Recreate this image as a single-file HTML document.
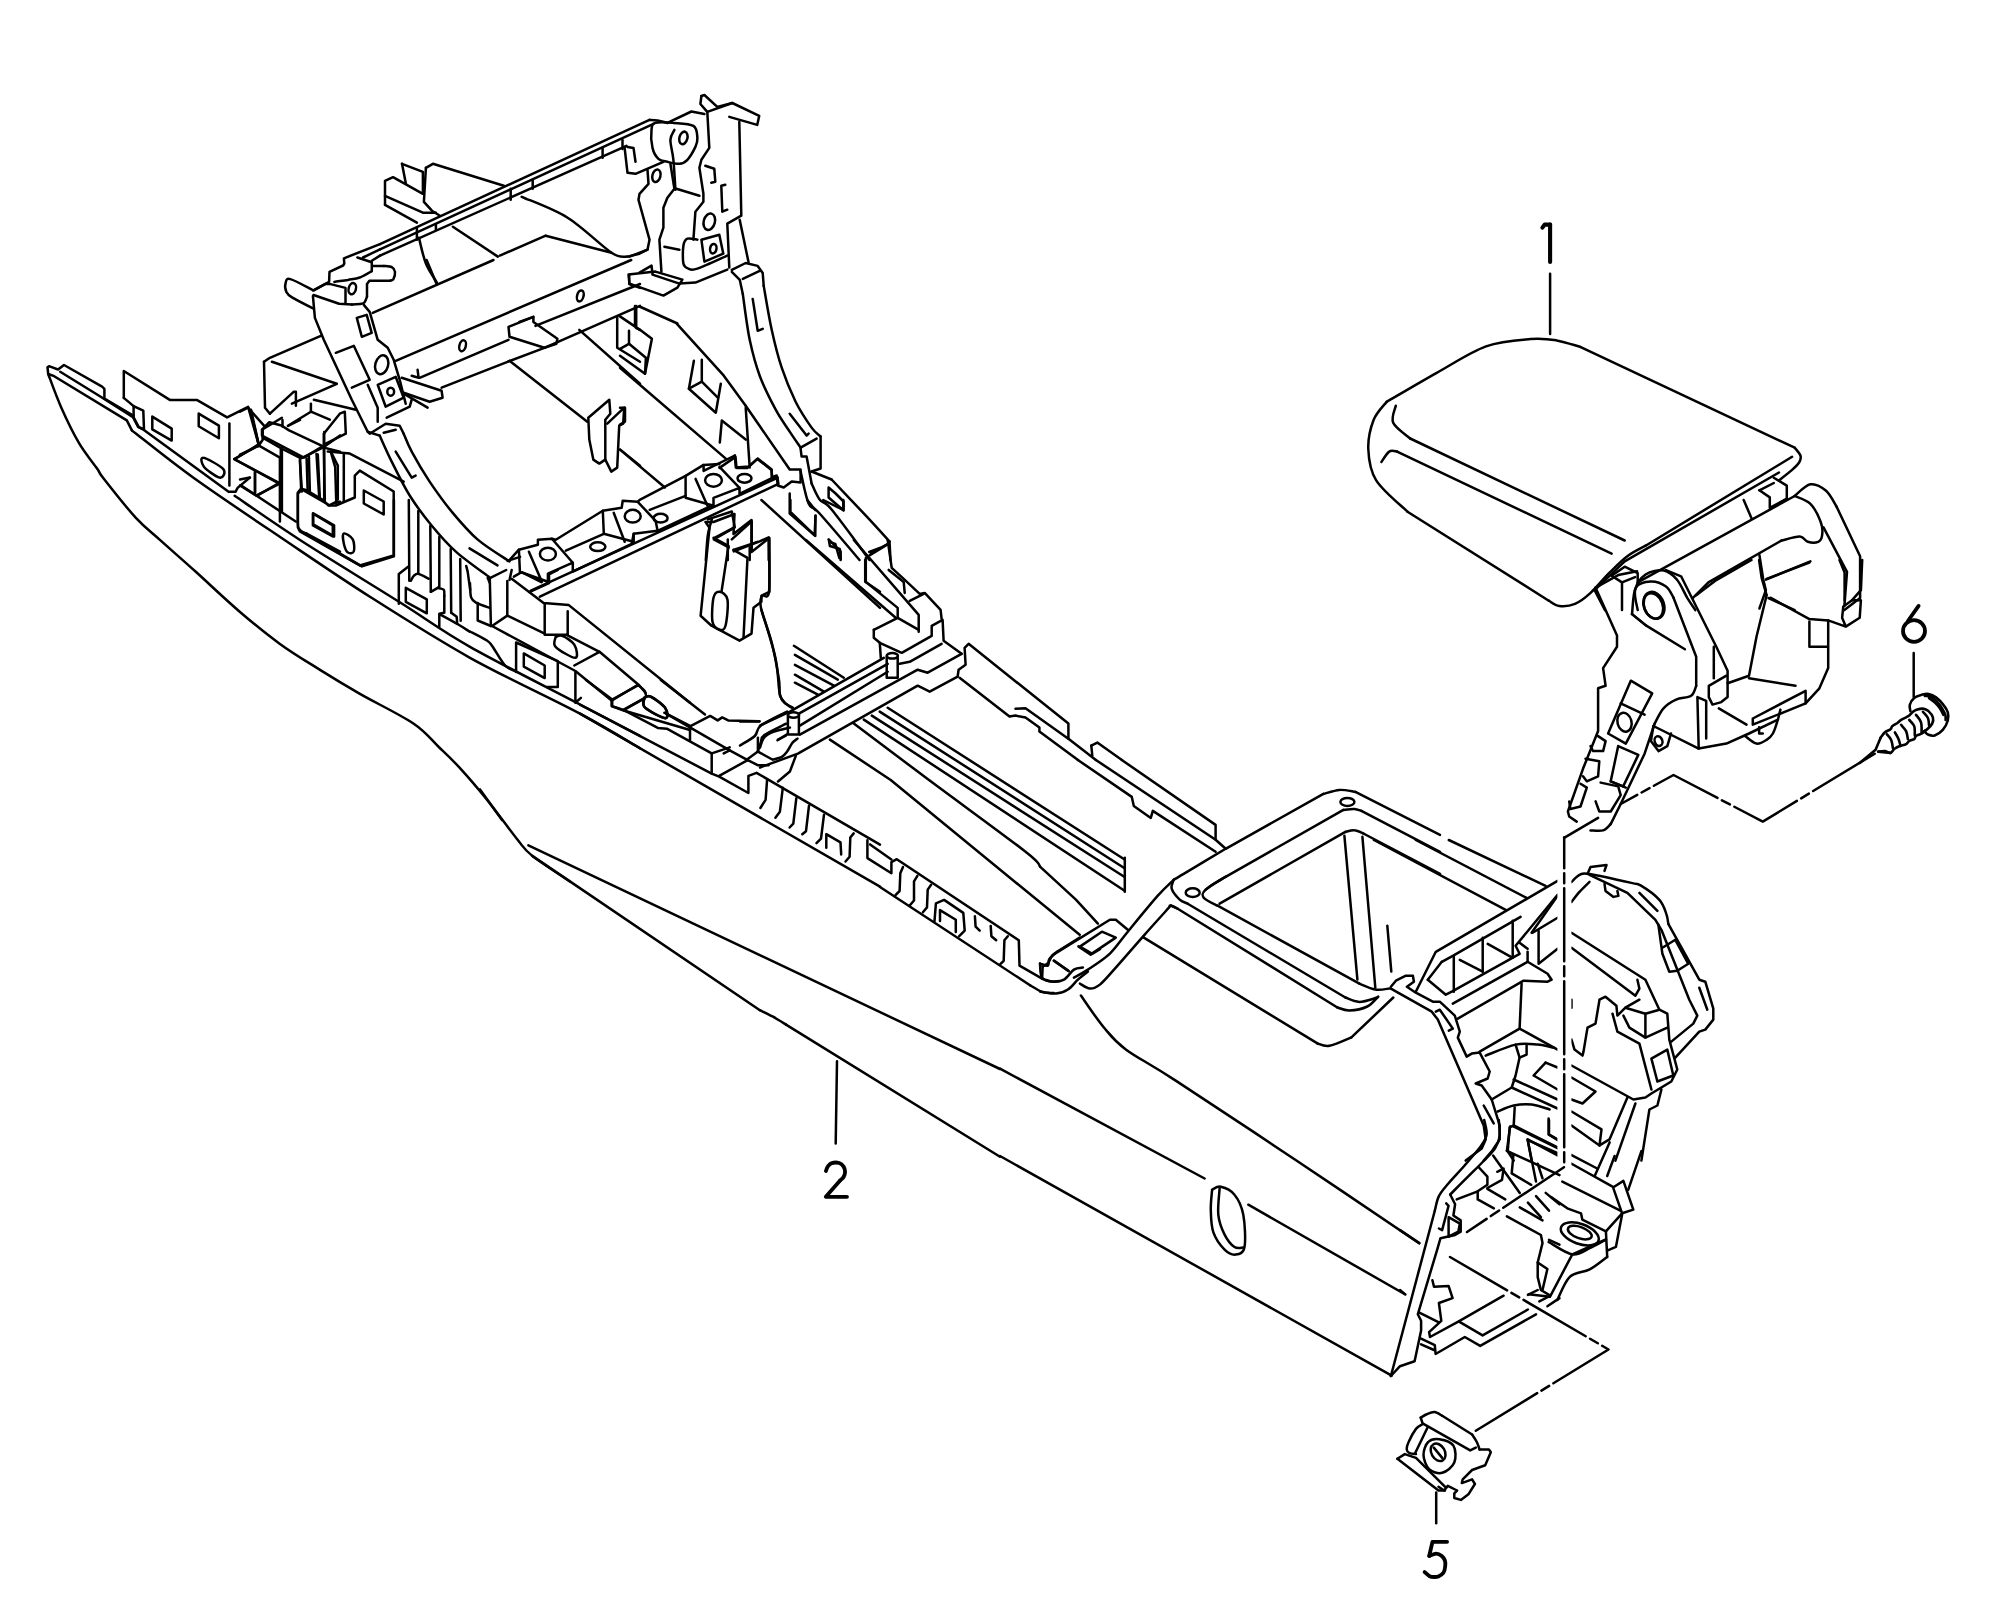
<!DOCTYPE html>
<html><head><meta charset="utf-8"><style>
html,body{margin:0;padding:0;background:#fff;width:2004px;height:1606px;overflow:hidden}
svg{display:block}
path,ellipse{fill:none;stroke:#000;stroke-linejoin:round;stroke-linecap:round}
text{font-family:"Liberation Sans",sans-serif;fill:#000;text-anchor:middle}
</style></head><body>
<svg width="2004" height="1606" viewBox="0 0 2004 1606" xmlns="http://www.w3.org/2000/svg">
<path d="M1918.6,605.9 L1907.9,621.0" stroke-width="3.8"/>
<ellipse cx="1914.0" cy="631.0" rx="11.0" ry="10.8" transform="rotate(0.0 1914.0 631.0)" stroke-width="3.8"/>
<path d="M1447.1,1541.8 L1432.5,1541.8 L1429.2,1556.0" stroke-width="3.8"/>
<path d="M1429.2,1556.0 C1430.4,1555.6 1434.1,1553.6 1436.2,1553.6 C1438.3,1553.6 1440.3,1554.8 1441.8,1556.0 C1443.2,1557.2 1444.3,1558.8 1444.9,1560.5 C1445.5,1562.2 1445.5,1564.4 1445.2,1566.4 C1445.0,1568.5 1444.5,1571.1 1443.4,1572.8 C1442.3,1574.5 1440.0,1575.7 1438.4,1576.4 C1436.8,1577.1 1435.5,1577.0 1434.0,1577.0 C1432.5,1577.0 1431.2,1577.0 1429.6,1576.2 C1428.0,1575.4 1425.4,1572.8 1424.6,1572.1" stroke-width="3.8"/>
<path d="M825.9,1171.0 C826.2,1170.2 826.9,1167.6 827.9,1166.3 C828.9,1165.0 829.9,1163.6 831.8,1163.1 C833.7,1162.5 837.2,1162.4 839.2,1163.0 C841.2,1163.6 842.6,1165.1 843.6,1166.6 C844.6,1168.1 845.1,1170.1 845.1,1171.8 C845.1,1173.5 844.4,1175.5 843.6,1177.0 C842.8,1178.5 840.7,1179.9 840.1,1180.5" stroke-width="3.8"/>
<path d="M840.1,1180.5 L825.8,1196.8 L847.0,1196.8" stroke-width="3.8"/>
<path d="M1550.1,224.6 L1550.1,262.0" stroke-width="4.1"/>
<path d="M1542.4,227.6 L1544.6,224.6 L1550.1,224.6" stroke-width="4.1"/>
<path d="M1550.1,273.7 L1550.1,333.9" stroke-width="2.5"/>
<path d="M1386.6,401.9 C1394.9,397.1 1419.8,382.3 1436.3,373.1 C1452.9,363.9 1470.3,352.1 1486.0,346.4 C1501.7,340.8 1518.7,340.1 1530.5,339.1 C1542.3,338.1 1548.4,339.1 1556.6,340.4 C1564.9,341.7 1576.3,345.9 1580.2,346.9" stroke-width="2.5"/>
<path d="M1580.2,346.9 L1794.7,447.7" stroke-width="2.5"/>
<path d="M1794.7,447.7 C1795.6,449.0 1799.6,453.1 1800.4,455.5 C1801.2,457.9 1800.8,459.6 1799.4,462.0 C1798.0,464.4 1795.5,466.8 1792.1,469.9 C1788.7,472.9 1781.2,478.6 1779.0,480.3" stroke-width="2.5"/>
<path d="M1386.6,401.9 C1384.4,404.9 1376.6,412.3 1373.5,420.2 C1370.5,428.0 1367.9,438.9 1368.3,449.0 C1368.7,459.0 1369.6,469.9 1376.2,480.3 C1382.7,490.8 1402.3,506.5 1407.5,511.7" stroke-width="2.5"/>
<path d="M1407.5,511.7 L1548.8,600.7" stroke-width="2.5"/>
<path d="M1548.8,600.7 C1550.5,601.5 1554.9,605.4 1559.3,605.9 C1563.6,606.4 1569.7,606.0 1575.0,603.8 C1580.2,601.6 1585.0,597.9 1590.6,592.8 C1596.3,587.7 1602.9,579.3 1609.0,573.2 C1615.1,567.1 1621.2,560.8 1627.3,556.2 C1633.4,551.6 1642.5,547.5 1645.6,545.7" stroke-width="2.5"/>
<path d="M1645.6,545.7 L1792.1,456.8" stroke-width="2.5"/>
<path d="M1395.8,405.8 C1395.3,408.6 1390.8,417.4 1393.2,422.8 C1395.6,428.3 1407.3,435.9 1410.2,438.5" stroke-width="2.5"/>
<path d="M1410.2,438.5 L1624.7,540.5" stroke-width="2.5"/>
<path d="M1381.4,462.0 C1382.7,460.3 1386.6,453.3 1389.2,451.6 C1391.9,449.8 1395.8,451.6 1397.1,451.6" stroke-width="2.5"/>
<path d="M1397.1,451.6 L1611.6,553.6" stroke-width="2.5"/>
<path d="M1594.6,590.2 L1624.7,561.4 L1779.0,472.5" stroke-width="2.5"/>
<path d="M1773.8,477.7 L1786.8,485.6 L1786.8,498.7 L1769.8,507.8 L1769.8,497.4 L1759.4,490.3" stroke-width="2.5"/>
<path d="M1759.4,490.3 L1773.8,483.0" stroke-width="2.5"/>
<path d="M1637.7,582.4 L1794.7,496.0" stroke-width="2.5"/>
<path d="M1794.7,496.0 C1797.3,494.1 1805.1,485.1 1810.4,484.3 C1815.6,483.4 1821.7,487.1 1826.1,490.8 C1830.4,494.5 1834.8,503.9 1836.5,506.5" stroke-width="2.5"/>
<path d="M1836.5,506.5 L1860.1,556.2 L1860.1,598.1 L1844.4,610.1" stroke-width="2.5"/>
<path d="M1794.7,496.0 C1797.3,497.4 1806.0,499.5 1810.4,503.9 C1814.7,508.2 1818.9,517.0 1820.8,522.2 C1822.8,527.4 1822.6,532.0 1822.1,535.3 C1821.7,538.5 1820.6,540.7 1818.2,541.8 C1815.8,542.9 1810.8,542.7 1807.8,541.8 C1804.7,540.9 1804.3,536.8 1799.9,536.6 C1795.5,536.4 1784.6,539.9 1781.6,540.5" stroke-width="2.5"/>
<path d="M1781.6,540.5 L1708.4,582.4 L1692.7,598.1" stroke-width="2.5"/>
<path d="M1823.5,527.4 L1847.0,571.9 L1844.4,605.9" stroke-width="2.5"/>
<path d="M1759.4,554.9 L1763.3,579.7 L1765.9,590.2 L1759.4,608.5" stroke-width="2.5"/>
<path d="M1765.9,579.7 L1810.4,561.4" stroke-width="2.5"/>
<path d="M1768.5,598.1 L1794.7,610.1" stroke-width="2.5"/>
<path d="M1743.7,500.0 L1751.5,518.3" stroke-width="2.5"/>
<path d="M1611.6,575.8 L1624.7,566.7 L1637.7,573.2 L1637.7,585.0" stroke-width="2.5"/>
<path d="M1611.6,575.8 L1622.0,582.4 L1622.0,610.1" stroke-width="2.5"/>
<path d="M1622.0,582.4 L1635.1,577.1" stroke-width="2.5"/>
<path d="M1637.7,610.1 C1637.3,606.8 1633.8,596.1 1635.1,590.2 C1636.4,584.3 1640.8,577.8 1645.6,574.5 C1650.4,571.2 1658.7,569.7 1663.9,570.6 C1669.1,571.5 1673.0,575.2 1677.0,579.7 C1680.9,584.3 1684.4,593.0 1687.4,598.1 C1690.5,603.1 1694.0,608.1 1695.3,610.1" stroke-width="2.5"/>
<ellipse cx="1653.4" cy="605.9" rx="9.2" ry="13.1" transform="rotate(-20.0 1653.4 605.9)" stroke-width="2.5"/>
<path d="M1594.6,590.2 L1605.0,610.1" stroke-width="2.5"/>
<path d="M312.9,295.9 L314.9,317.9 L323.8,339.8 L351.8,399.7 L367.7,431.7 L379.7,435.6" stroke-width="2.5"/>
<path d="M363.8,304.9 L369.7,311.9 L377.7,339.8 L387.7,347.8 L393.7,359.8 L399.7,379.8 L405.7,403.7" stroke-width="2.5"/>
<path d="M356.8,317.9 L366.7,314.9 L371.7,332.9 L361.8,336.8 Z" stroke-width="2.5"/>
<path d="M335.8,352.8 L353.8,345.8 L369.7,379.8 L351.8,387.7" stroke-width="2.5"/>
<ellipse cx="381.7" cy="364.8" rx="6.4" ry="9.6" transform="rotate(15.0 381.7 364.8)" stroke-width="2.5"/>
<path d="M377.7,384.8 L395.7,376.8 L403.7,397.7 L385.7,406.7 Z" stroke-width="2.5"/>
<ellipse cx="390.7" cy="391.7" rx="3.4" ry="4.0" transform="rotate(0.0 390.7 391.7)" stroke-width="2.5"/>
<path d="M367.7,384.8 L377.7,407.7 L377.7,421.7" stroke-width="2.5"/>
<path d="M386.7,417.7 L409.7,406.7 L411.7,399.7" stroke-width="2.5"/>
<path d="M401.7,377.8 L441.6,390.7 L442.6,397.7 L429.6,401.7 L403.7,392.7" stroke-width="2.5"/>
<path d="M417.6,369.8 L418.6,377.8 L411.7,375.8" stroke-width="2.5"/>
<path d="M403.7,393.7 L427.6,407.7" stroke-width="2.5"/>
<path d="M383.7,432.7 L395.7,429.7" stroke-width="2.5"/>
<path d="M395.7,451.6 L411.7,477.6 L415.6,475.6" stroke-width="2.5"/>
<path d="M469.5,548.4 L497.5,565.4" stroke-width="2.5"/>
<path d="M367.7,431.7 L369.7,433.7 L385.7,423.7 L399.7,425.7 L403.7,433.7" stroke-width="2.5"/>
<path d="M403.7,433.7 C405.0,436.6 407.3,443.6 411.7,451.6 C416.0,459.6 423.0,471.6 429.6,481.6 C436.3,491.5 443.6,501.8 451.6,511.5 C459.6,521.1 467.9,531.1 477.5,539.4 C487.2,547.8 504.1,557.7 509.5,561.4" stroke-width="2.5"/>
<path d="M379.7,435.6 C381.7,440.0 386.7,451.6 391.7,461.6 C396.7,471.6 403.0,484.9 409.7,495.5 C416.3,506.2 424.0,516.2 431.6,525.5 C439.3,534.8 445.9,542.8 455.6,551.4 C465.2,560.1 483.8,573.0 489.5,577.4" stroke-width="2.5"/>
<path d="M372.7,312.9 L493.5,260.0" stroke-width="2.5"/>
<path d="M395.7,360.8 L631.2,260.0" stroke-width="2.5"/>
<path d="M419.6,377.8 L508.5,339.8" stroke-width="2.5"/>
<path d="M535.4,325.9 L640.0,284.0" stroke-width="2.5"/>
<path d="M441.6,387.7 L507.5,361.8" stroke-width="2.5"/>
<path d="M544.4,347.8 L640.0,305.9" stroke-width="2.5"/>
<path d="M508.5,326.9 L533.4,316.9 L533.4,321.9 L557.4,338.8 L556.4,343.8 L544.4,347.8 L509.5,336.8 Z" stroke-width="2.5"/>
<path d="M519.4,321.9 L533.4,316.9" stroke-width="2.5"/>
<ellipse cx="462.6" cy="345.8" rx="3.2" ry="5.6" transform="rotate(15.0 462.6 345.8)" stroke-width="2.5"/>
<ellipse cx="580.3" cy="295.9" rx="3.2" ry="5.6" transform="rotate(15.0 580.3 295.9)" stroke-width="2.5"/>
<path d="M509.5,360.8 L587.3,421.7" stroke-width="2.5"/>
<path d="M579.3,329.9 L640.0,383.8" stroke-width="2.5"/>
<path d="M617.2,317.9 L617.2,347.8 L640.0,361.8" stroke-width="2.5"/>
<path d="M619.2,315.9 L640.0,329.9" stroke-width="2.5"/>
<path d="M636.2,305.9 L636.2,325.9" stroke-width="2.5"/>
<path d="M629.2,275.0 L629.2,284.0 L640.0,287.9" stroke-width="2.5"/>
<path d="M426.6,260.0 L436.6,284.0" stroke-width="2.5"/>
<path d="M588.3,417.7 L609.3,399.7 L610.3,413.7 L605.3,419.7 L605.3,459.6 L599.3,463.6 L593.3,459.6 L589.3,439.6 L588.3,417.7" stroke-width="2.5"/>
<path d="M607.3,423.7 L624.2,407.7 L623.2,423.7 L619.2,425.7 L617.2,467.6 L611.3,471.6 L605.3,459.6" stroke-width="2.5"/>
<path d="M620.2,449.6 L640.0,465.6" stroke-width="2.5"/>
<path d="M264.0,361.8 L269.9,357.8 L320.8,335.8" stroke-width="2.5"/>
<path d="M264.0,361.8 L265.0,407.7 L269.9,413.7" stroke-width="2.5"/>
<path d="M271.9,361.8 L336.8,383.8 L291.9,403.7" stroke-width="2.5"/>
<path d="M313.9,399.7 L355.8,409.7" stroke-width="2.5"/>
<path d="M269.9,413.7 L293.9,391.7 L295.9,391.7 L295.9,405.7" stroke-width="2.5"/>
<path d="M287.9,425.7 L310.9,411.7 L329.8,419.7" stroke-width="2.5"/>
<path d="M310.9,403.7 L310.9,411.7" stroke-width="2.5"/>
<path d="M323.8,444.6 L323.8,433.7 L339.8,413.7 L344.8,411.7 L345.8,433.7 L323.8,444.6" stroke-width="2.5"/>
<path d="M262.0,429.7 L262.0,435.6 L303.9,457.6 L323.8,445.6" stroke-width="2.5"/>
<path d="M262.0,429.7 L281.9,417.7" stroke-width="2.5"/>
<path d="M248.0,407.7 L240.0,411.7" stroke-width="2.5"/>
<path d="M248.0,407.7 L264.0,425.7" stroke-width="2.5"/>
<path d="M251.0,409.7 L259.0,445.6 L240.0,454.6" stroke-width="2.5"/>
<path d="M259.0,445.6 L279.9,457.6 L279.9,521.5" stroke-width="2.5"/>
<path d="M281.9,447.6 L281.9,511.5" stroke-width="2.5"/>
<path d="M299.9,459.6 L301.9,491.5" stroke-width="2.5"/>
<path d="M308.9,456.6 L309.9,493.5" stroke-width="2.5"/>
<path d="M317.8,454.6 L319.8,497.5" stroke-width="2.5"/>
<path d="M323.8,447.6 L324.8,501.5" stroke-width="2.5"/>
<path d="M330.8,451.6 L337.8,465.6 L337.8,499.5" stroke-width="2.5"/>
<path d="M343.8,453.6 L343.8,501.5" stroke-width="2.5"/>
<path d="M327.8,451.6 L349.8,453.6 L403.7,481.6" stroke-width="2.5"/>
<path d="M240.0,485.5 L256.0,495.5 L279.9,483.6" stroke-width="2.5"/>
<path d="M255.0,472.6 L255.0,492.5" stroke-width="2.5"/>
<path d="M240.0,479.6 L250.0,477.6" stroke-width="2.5"/>
<path d="M301.9,489.5 L297.9,493.5 L297.9,527.5 L299.9,531.5 L359.8,565.4 L393.7,555.4 L393.7,491.5 L359.8,470.6 L354.8,475.6 L354.8,497.5 L335.8,505.5 L329.8,505.5 L301.9,489.5" stroke-width="2.5"/>
<path d="M363.8,490.5 L383.7,501.5 L383.7,514.5 L363.8,503.5 Z" stroke-width="2.5"/>
<path d="M312.9,513.5 L332.8,525.5 L332.8,536.4 L312.9,525.5 Z" stroke-width="2.5"/>
<path d="M343.8,533.5 C345.3,532.8 351.1,536.4 352.8,539.4 C354.4,542.4 354.6,549.3 353.8,551.4 C352.9,553.6 349.4,553.7 347.8,552.4 C346.1,551.1 344.5,546.6 343.8,543.4 C343.1,540.3 342.3,534.1 343.8,533.5 Z" stroke-width="2.5"/>
<path d="M380.0,244.1 L649.5,119.9" stroke-width="2.5"/>
<path d="M649.5,119.9 C650.8,120.0 654.5,120.0 657.4,120.5 C660.4,121.0 665.8,122.5 667.4,122.9" stroke-width="2.5"/>
<path d="M667.4,122.9 L691.4,111.5 L704.4,113.9" stroke-width="2.5"/>
<path d="M380.0,249.3 L653.5,123.9" stroke-width="2.5"/>
<path d="M380.0,255.6 L626.5,145.9" stroke-width="2.5"/>
<path d="M416.9,227.7 L416.9,239.7" stroke-width="2.5"/>
<path d="M435.9,224.7 L435.9,229.7" stroke-width="2.5"/>
<path d="M510.7,188.8 L510.7,199.8" stroke-width="2.5"/>
<path d="M532.7,179.8 L532.7,188.8" stroke-width="2.5"/>
<path d="M602.6,147.9 L602.6,157.8" stroke-width="2.5"/>
<path d="M622.5,139.9 L622.5,148.9" stroke-width="2.5"/>
<path d="M385.0,204.8 L385.0,180.8 L393.0,177.2 L422.9,193.8" stroke-width="2.5"/>
<path d="M385.0,195.8 L422.9,212.7 L435.9,212.7" stroke-width="2.5"/>
<path d="M385.0,204.8 L416.9,222.7" stroke-width="2.5"/>
<path d="M402.0,163.8 L405.9,183.8" stroke-width="2.5"/>
<path d="M402.0,163.8 L422.9,171.8 L422.9,193.8" stroke-width="2.5"/>
<path d="M425.9,167.8 L432.9,163.8 L503.8,185.8" stroke-width="2.5"/>
<path d="M425.9,167.8 L423.9,201.8 L431.9,210.7 L439.9,215.7" stroke-width="2.5"/>
<path d="M521.7,196.8 C529.4,200.3 552.7,208.4 567.6,217.7 C582.6,227.0 601.6,246.2 611.5,252.7 C621.5,259.1 624.8,256.0 627.5,256.6" stroke-width="2.5"/>
<path d="M545.7,235.7 L611.5,252.7" stroke-width="2.5"/>
<path d="M452.9,226.7 L497.8,256.6" stroke-width="2.5"/>
<path d="M499.8,255.6 L545.7,235.7" stroke-width="2.5"/>
<path d="M418.9,237.7 C420.1,242.0 422.9,256.1 425.9,263.6 C428.9,271.1 435.1,279.4 436.9,282.6" stroke-width="2.5"/>
<path d="M655.4,122.9 C659.1,121.7 667.1,122.4 673.4,122.9 C679.7,123.4 689.4,123.4 693.4,125.9 C697.4,128.4 697.0,134.4 697.4,137.9 C697.7,141.4 697.0,143.2 695.4,146.9 C693.7,150.5 690.0,157.0 687.4,159.8 C684.7,162.7 682.7,163.5 679.4,163.8 C676.1,164.2 670.9,162.7 667.4,161.8 C663.9,161.0 660.9,161.2 658.4,158.8 C655.9,156.5 653.6,152.7 652.5,147.9 C651.3,143.0 651.0,134.1 651.5,129.9 C652.0,125.7 651.8,124.1 655.4,122.9 Z" stroke-width="2.5"/>
<ellipse cx="683.4" cy="137.9" rx="4.0" ry="6.4" transform="rotate(15.0 683.4 137.9)" stroke-width="2.5"/>
<path d="M674.4,129.9 C673.7,131.6 670.6,134.9 670.4,139.9 C670.3,144.9 672.6,151.5 673.4,159.8 C674.2,168.2 675.1,184.8 675.4,189.8" stroke-width="2.5"/>
<path d="M624.5,146.9 L627.5,172.8 L635.5,173.8 L663.4,161.8" stroke-width="2.5"/>
<path d="M627.5,146.9 L633.5,147.9 L635.5,161.8" stroke-width="2.5"/>
<ellipse cx="656.4" cy="175.8" rx="4.0" ry="6.4" transform="rotate(15.0 656.4 175.8)" stroke-width="2.5"/>
<path d="M647.5,169.8 L648.5,183.8 L639.5,193.8 L638.5,199.8 L649.5,239.7 L647.5,249.7 L639.5,253.7 L627.5,256.6" stroke-width="2.5"/>
<path d="M670.4,163.8 L674.4,188.8 L667.4,197.8 L663.4,207.7 L663.4,227.7 L659.4,239.7 L661.4,271.6" stroke-width="2.5"/>
<path d="M676.4,188.8 L699.4,195.8" stroke-width="2.5"/>
<path d="M701.4,96.0 L700.4,104.0 L707.3,111.9 L709.3,147.9 L701.4,159.8 L699.4,167.8 L703.4,193.8 L703.4,201.8 L695.4,211.7 L693.4,239.7" stroke-width="2.5"/>
<path d="M701.4,96.0 L704.4,95.0 L717.3,106.9 L732.3,103.0 L759.2,115.9 L757.2,124.9 L729.3,116.9" stroke-width="2.5"/>
<path d="M707.3,111.9 L732.3,103.0" stroke-width="2.5"/>
<path d="M739.3,121.9 L741.3,215.7 L727.3,223.7 L729.3,267.6" stroke-width="2.5"/>
<path d="M705.3,165.8 L714.3,168.8 L715.3,181.8 L711.3,182.8" stroke-width="2.5"/>
<path d="M725.3,184.8 L721.3,185.8 L722.3,211.7 L727.3,209.7" stroke-width="2.5"/>
<ellipse cx="709.3" cy="221.7" rx="5.6" ry="8.4" transform="rotate(15.0 709.3 221.7)" stroke-width="2.5"/>
<path d="M697.4,239.7 C695.7,239.5 689.7,237.7 687.4,238.7 C685.1,239.7 684.1,241.5 683.4,245.7 C682.7,249.8 682.6,259.8 683.4,263.6 C684.2,267.5 686.1,267.8 688.4,268.6 C690.7,269.5 690.9,270.8 697.4,268.6 C703.9,266.5 722.3,257.8 727.3,255.6" stroke-width="2.5"/>
<path d="M701.4,239.7 L719.3,234.7 L723.3,253.7 L704.4,261.6 Z" stroke-width="2.5"/>
<ellipse cx="713.3" cy="248.7" rx="3.2" ry="4.8" transform="rotate(10.0 713.3 248.7)" stroke-width="2.5"/>
<path d="M664.4,246.7 L679.4,249.7" stroke-width="2.5"/>
<path d="M652.5,274.6 L679.4,283.6 L695.4,282.6 L727.3,269.6" stroke-width="2.5"/>
<path d="M628.5,274.6 L629.5,283.6 L663.4,295.6 L677.4,287.6 L682.4,279.6 L655.4,271.6 L628.5,274.6" stroke-width="2.5"/>
<path d="M639.5,272.6 L651.5,265.6 L652.5,273.6" stroke-width="2.5"/>
<path d="M639.5,306.5 L677.4,323.5" stroke-width="2.5"/>
<path d="M629.5,256.6 L647.5,249.7" stroke-width="2.5"/>
<path d="M731.8,269.9 L745.7,263.0 L757.7,265.9 L762.7,272.9 L763.7,285.9" stroke-width="2.5"/>
<path d="M763.7,285.9 C765.0,293.2 768.7,316.2 771.7,329.8 C774.7,343.5 777.7,355.8 781.7,367.7 C785.7,379.7 790.7,391.7 795.6,401.7 C800.6,411.7 807.5,421.8 811.6,427.6 C815.8,433.4 819.1,435.1 820.6,436.6" stroke-width="2.5"/>
<path d="M820.6,436.6 L820.6,468.5 L811.6,471.5" stroke-width="2.5"/>
<path d="M731.8,271.9 L739.8,279.9 L742.8,293.9" stroke-width="2.5"/>
<path d="M742.8,293.9 C743.9,301.5 746.9,326.2 749.7,339.8 C752.6,353.4 755.4,364.1 759.7,375.7 C764.0,387.4 770.7,400.3 775.7,409.7 C780.7,419.0 785.5,425.3 789.7,431.6 C793.8,437.9 798.8,444.9 800.6,447.6" stroke-width="2.5"/>
<path d="M800.6,447.6 L816.6,438.6" stroke-width="2.5"/>
<path d="M742.8,278.9 L759.7,270.9" stroke-width="2.5"/>
<path d="M752.7,298.9 L757.7,330.8 L762.7,328.8" stroke-width="2.5"/>
<path d="M789.7,413.7 L806.6,435.6 L808.6,433.6" stroke-width="2.5"/>
<path d="M800.6,448.6 L801.6,456.6 L806.6,456.6 L811.6,483.5" stroke-width="2.5"/>
<path d="M811.6,471.5 L831.6,479.5" stroke-width="2.5"/>
<path d="M831.6,479.5 C837.6,485.8 857.9,507.1 867.5,517.4 C877.2,527.8 885.8,537.4 889.5,541.4" stroke-width="2.5"/>
<path d="M889.5,541.4 L890.5,560.0" stroke-width="2.5"/>
<path d="M811.6,483.5 C812.9,486.2 816.3,495.2 819.6,499.5 C822.9,503.8 823.3,499.4 831.6,509.5 C839.9,519.5 863.2,551.5 869.5,560.0" stroke-width="2.5"/>
<path d="M800.6,471.5 C802.0,476.9 805.5,496.5 808.6,503.5 C811.8,510.5 811.1,504.0 819.6,513.5 C828.1,522.9 852.9,552.2 859.5,560.0" stroke-width="2.5"/>
<path d="M828.6,487.5 L835.6,493.5 L843.6,501.5 L843.6,510.5 L828.6,497.5 Z" stroke-width="2.5"/>
<path d="M869.5,555.4 L887.5,544.4" stroke-width="2.5"/>
<path d="M789.7,493.5 L789.7,513.5 L814.6,535.4 L815.6,515.4" stroke-width="2.5"/>
<path d="M828.6,539.4 L840.6,551.4 L840.6,560.0" stroke-width="2.5"/>
<path d="M745.7,405.7 L789.7,469.5 L800.6,469.5 L800.6,482.5 L791.7,481.5 L783.7,487.5 L777.7,485.5 L776.7,475.5 L771.7,477.5 L771.7,469.5 L757.7,458.6 L748.7,466.5 L735.8,467.5 L734.8,455.6" stroke-width="2.5"/>
<path d="M676.9,323.8 L723.8,375.7 L745.7,405.7" stroke-width="2.5"/>
<path d="M620.0,367.7 L725.8,458.6" stroke-width="2.5"/>
<path d="M620.0,449.6 L664.9,487.5" stroke-width="2.5"/>
<path d="M620.0,348.8 L629.0,343.8 L645.9,357.8 L645.0,373.7 L620.0,355.8" stroke-width="2.5"/>
<path d="M629.0,330.8 L629.0,343.8" stroke-width="2.5"/>
<path d="M636.0,327.8 L640.0,329.8 L651.9,338.8 L645.0,373.7" stroke-width="2.5"/>
<path d="M635.0,305.9 L635.0,325.8" stroke-width="2.5"/>
<path d="M693.9,360.8 L688.9,388.7 L715.8,412.7 L720.8,383.7" stroke-width="2.5"/>
<path d="M701.8,359.8 L701.8,381.7 L688.9,388.7" stroke-width="2.5"/>
<path d="M701.8,381.7 L717.8,397.7" stroke-width="2.5"/>
<path d="M719.8,442.6 L721.8,420.6 L745.7,439.6" stroke-width="2.5"/>
<path d="M745.7,407.7 L749.7,467.5" stroke-width="2.5"/>
<path d="M620.0,407.7 L625.0,407.7 L625.0,421.6 L620.0,424.6" stroke-width="2.5"/>
<path d="M707.8,519.4 L731.8,511.5 L734.8,527.4 L713.8,539.4 L728.8,547.4" stroke-width="2.5"/>
<path d="M731.8,539.4 L751.7,521.4 L751.7,549.4" stroke-width="2.5"/>
<path d="M733.8,551.4 L759.7,541.4 L768.7,537.4 L768.7,560.0" stroke-width="2.5"/>
<path d="M711.8,519.4 C711.2,522.1 708.8,528.7 707.8,535.4 C706.8,542.2 706.2,555.9 705.8,560.0" stroke-width="2.5"/>
<path d="M727.8,539.4 L727.8,560.0" stroke-width="2.5"/>
<path d="M749.7,547.4 L749.7,560.0" stroke-width="2.5"/>
<path d="M769.0,540.0 C769.0,548.6 770.1,582.6 769.0,591.9 C767.8,601.2 763.3,593.2 762.0,595.9 C760.7,598.5 759.3,599.9 761.0,607.9 C762.7,615.8 769.0,631.8 772.0,643.8 C775.0,655.8 777.6,671.1 779.0,679.7 C780.3,688.4 778.8,691.7 780.0,695.7 C781.1,699.7 783.8,701.7 785.9,703.7 C788.1,705.7 791.8,707.0 792.9,707.7" stroke-width="2.5"/>
<path d="M805.9,540.0 L895.7,617.8" stroke-width="2.5"/>
<path d="M828.9,540.0 L829.9,546.0 L839.8,549.0 L840.8,559.0" stroke-width="2.5"/>
<path d="M853.8,540.0 L918.7,614.9 L918.7,631.8" stroke-width="2.5"/>
<path d="M865.8,558.0 L865.8,581.9 L897.7,607.9 L897.7,616.8" stroke-width="2.5"/>
<path d="M870.8,553.0 L887.7,544.0" stroke-width="2.5"/>
<path d="M887.7,540.0 L891.7,567.9 L903.7,578.9 L919.7,593.9 L924.7,592.9 L940.6,609.9 L941.6,618.8" stroke-width="2.5"/>
<path d="M888.7,569.9 L903.7,581.9 L904.7,592.9" stroke-width="2.5"/>
<path d="M909.7,600.9 L923.7,593.9" stroke-width="2.5"/>
<path d="M873.8,629.8 L897.7,617.8 L918.7,629.8" stroke-width="2.5"/>
<path d="M873.8,629.8 L873.8,637.8 L879.8,642.8 L901.7,652.8 L931.7,635.8 L931.7,625.8 L942.6,619.8 L943.6,640.8 L961.6,653.8" stroke-width="2.5"/>
<path d="M879.8,642.8 L880.8,657.8" stroke-width="2.5"/>
<path d="M941.6,643.8 L909.7,661.8 L899.7,663.8" stroke-width="2.5"/>
<path d="M760.0,725.6 L789.9,711.7 L883.8,657.8" stroke-width="2.5"/>
<path d="M798.9,713.7 L887.7,663.8" stroke-width="2.5"/>
<path d="M799.9,725.6 L887.7,671.7" stroke-width="2.5"/>
<path d="M799.9,734.6 L917.7,669.7 L927.7,672.7 L961.6,653.8" stroke-width="2.5"/>
<path d="M760.0,767.5 L797.9,753.6 L917.7,685.7 L929.7,691.7 L957.6,676.7 L958.6,669.7 L965.6,664.8 L964.6,647.8 L968.6,643.8 L1068.4,723.6 L1068.4,738.6" stroke-width="2.5"/>
<path d="M787.9,715.6 L787.9,734.6 L798.9,734.6 L798.9,715.6" stroke-width="2.5"/>
<ellipse cx="793.5" cy="715.0" rx="5.6" ry="2.8" transform="rotate(0.0 793.5 715.0)" stroke-width="2.5"/>
<path d="M886.7,656.8 L886.7,677.7 L897.7,677.7 L897.7,656.8" stroke-width="2.5"/>
<ellipse cx="892.3" cy="655.8" rx="5.6" ry="2.8" transform="rotate(0.0 892.3 655.8)" stroke-width="2.5"/>
<path d="M795.9,755.6 L789.9,771.5 L778.0,781.5" stroke-width="2.5"/>
<path d="M760.0,747.6 C760.7,745.9 761.7,740.3 764.0,737.6 C766.3,734.9 769.6,733.3 774.0,731.6 C778.3,730.0 787.3,728.3 789.9,727.6" stroke-width="2.5"/>
<path d="M778.0,739.6 L785.9,735.6" stroke-width="2.5"/>
<path d="M793.9,645.8 L843.8,677.7" stroke-width="2.5"/>
<path d="M794.9,654.8 L837.8,679.7" stroke-width="2.5"/>
<path d="M794.9,664.8 L833.9,685.7" stroke-width="2.5"/>
<path d="M794.9,674.7 L823.9,691.7" stroke-width="2.5"/>
<path d="M794.9,682.7 L817.9,694.7" stroke-width="2.5"/>
<path d="M959.6,677.7 L1009.5,716.6 L1015.5,715.6 L1025.5,717.6 L1039.4,727.6 L1039.4,731.6 L1078.0,760.0" stroke-width="2.5"/>
<path d="M1015.5,708.7 L1025.5,708.3 L1069.4,739.6 L1095.9,760.0" stroke-width="2.5"/>
<path d="M1091.3,745.6 L1097.3,742.6 L1121.9,760.0" stroke-width="2.5"/>
<path d="M1091.3,745.6 L1092.3,755.6" stroke-width="2.5"/>
<path d="M470.0,631.5 C472.7,632.9 482.8,637.9 486.5,640.3 C490.1,642.6 488.8,641.5 492.0,645.7 C495.1,650.0 501.1,661.2 505.1,665.5 C509.2,669.8 514.3,670.5 516.1,671.5" stroke-width="2.5"/>
<path d="M529.3,592.0 L549.0,583.2 L549.0,574.4 L557.8,570.0" stroke-width="2.5"/>
<path d="M511.7,578.8 L543.6,602.9 L568.8,605.1 L690.0,702.8" stroke-width="2.5"/>
<path d="M544.7,604.0 L544.7,634.8 L567.7,634.8 L567.7,611.2" stroke-width="2.5"/>
<path d="M507.3,581.0 L507.3,615.6 L492.0,626.0" stroke-width="2.5"/>
<path d="M507.3,615.6 L544.7,633.7" stroke-width="2.5"/>
<path d="M489.8,578.8 L490.9,626.0" stroke-width="2.5"/>
<path d="M470.0,583.2 C470.2,585.6 470.0,594.2 471.1,597.4 C472.2,600.7 473.5,601.2 476.6,602.9 C479.7,604.7 487.6,607.1 489.8,607.9" stroke-width="2.5"/>
<path d="M477.7,602.9 L477.7,620.5 L490.9,626.0" stroke-width="2.5"/>
<path d="M490.9,577.7 L506.2,570.0" stroke-width="2.5"/>
<path d="M511.7,570.0 L509.5,579.9" stroke-width="2.5"/>
<path d="M513.9,576.6 L521.6,572.2 L541.4,582.1" stroke-width="2.5"/>
<path d="M516.1,672.1 L516.1,642.5 L557.8,661.1 L557.8,686.9 L546.8,686.9" stroke-width="2.5"/>
<path d="M523.8,653.4 L544.7,665.5 L544.7,678.1 L523.8,666.6 Z" stroke-width="2.5"/>
<path d="M555.6,637.0 C556.7,636.8 559.1,634.6 562.2,635.9 C565.3,637.1 572.1,641.0 574.3,644.7 C576.5,648.3 578.5,657.5 575.4,657.8 C572.3,658.2 558.9,650.3 555.6,646.8 C552.3,643.4 555.6,638.6 555.6,637.0" stroke-width="2.5"/>
<path d="M566.6,634.8 L599.5,651.8 L639.1,685.3 L645.7,693.0" stroke-width="2.5"/>
<path d="M492.0,626.0 L575.4,671.0 L611.6,700.6 L611.6,706.1 L623.7,710.5 L690.0,730.0" stroke-width="2.5"/>
<path d="M574.3,665.5 L599.5,651.8" stroke-width="2.5"/>
<path d="M575.4,672.1 L575.4,702.8 L580.9,697.9" stroke-width="2.5"/>
<path d="M611.6,700.6 L638.0,684.7" stroke-width="2.5"/>
<path d="M624.8,709.4 L644.6,698.4" stroke-width="2.5"/>
<path d="M644.6,697.3 C645.7,697.3 647.7,695.0 651.1,696.8 C654.6,698.6 663.0,704.8 665.4,708.3 C667.8,711.9 668.9,718.4 665.4,718.2 C661.9,718.0 648.0,710.7 644.6,707.2 C641.1,703.8 644.6,699.0 644.6,697.3" stroke-width="2.5"/>
<path d="M664.3,712.7 L690.0,725.9" stroke-width="2.5"/>
<path d="M705.5,522.0 L709.5,527.9 L700.6,615.8 L711.5,625.7 L739.5,640.7 L751.5,633.7 L753.5,607.8 L761.4,601.8 L761.4,595.8 L769.4,591.8 L769.4,537.9 L751.5,551.9 L751.5,520.0 L733.5,533.9 L734.5,514.0 L713.5,522.0 L705.5,522.0" stroke-width="2.5"/>
<path d="M713.5,537.9 L728.5,545.9 L721.5,591.8" stroke-width="2.5"/>
<path d="M714.5,537.9 L733.5,527.9" stroke-width="2.5"/>
<path d="M733.5,549.9 L747.5,557.9 L743.5,637.7" stroke-width="2.5"/>
<path d="M733.5,549.9 L757.4,541.9" stroke-width="2.5"/>
<path d="M713.5,597.8 C714.7,592.8 717.2,591.5 719.5,591.8 C721.8,592.1 726.5,594.1 727.5,599.8 C728.5,605.5 726.8,620.8 725.5,625.7 C724.2,630.7 721.7,630.4 719.5,629.7 C717.4,629.1 713.5,627.1 712.5,621.8 C711.5,616.4 712.4,602.8 713.5,597.8 Z" stroke-width="2.5"/>
<path d="M761.4,609.8 C763.8,617.8 772.4,644.0 775.4,657.7 C778.4,671.3 778.1,684.3 779.4,691.6 C780.7,698.9 781.4,698.9 783.4,701.6 C785.4,704.3 790.0,706.6 791.4,707.6" stroke-width="2.5"/>
<path d="M761.4,500.0 L880.0,607.8" stroke-width="2.5"/>
<path d="M790.4,500.0 L790.4,512.0 L815.3,535.9 L815.3,516.0" stroke-width="2.5"/>
<path d="M807.3,500.0 L815.3,510.0" stroke-width="2.5"/>
<path d="M823.3,500.0 L843.3,510.0 L843.3,500.0" stroke-width="2.5"/>
<path d="M829.3,541.9 L835.3,543.9 L839.3,557.9" stroke-width="2.5"/>
<path d="M865.2,559.9 L865.2,581.8 L880.0,591.8" stroke-width="2.5"/>
<path d="M869.2,551.9 L880.0,547.9" stroke-width="2.5"/>
<path d="M480.0,789.4 L502.0,820.0" stroke-width="2.5"/>
<path d="M580.0,713.7 L880.0,886.6" stroke-width="2.5"/>
<path d="M580.0,704.7 L711.7,773.6 L719.2,776.6 L748.4,793.0 L748.4,775.8 L756.6,772.8 L880.0,844.7" stroke-width="2.5"/>
<path d="M767.1,779.6 L765.6,799.8 L760.4,808.0" stroke-width="2.5"/>
<path d="M782.8,787.8 L779.9,811.7 L775.4,817.7" stroke-width="2.5"/>
<path d="M796.3,798.3 L793.3,823.7 L789.6,827.5" stroke-width="2.5"/>
<path d="M809.0,805.7 L806.0,831.2 L802.3,834.2" stroke-width="2.5"/>
<path d="M824.0,814.7 L821.0,838.7 L816.5,843.2" stroke-width="2.5"/>
<path d="M826.3,847.7 L826.3,834.2 L840.5,842.4 L841.2,854.4" stroke-width="2.5"/>
<path d="M586.0,680.0 L612.2,699.5 L612.2,706.2 L623.4,709.9 L657.8,727.9 L666.8,728.7 L711.7,753.4 L729.7,747.4" stroke-width="2.5"/>
<path d="M612.2,699.5 L638.4,685.2" stroke-width="2.5"/>
<path d="M638.4,685.2 C639.4,686.1 643.1,688.9 644.4,690.5 C645.6,692.1 645.6,694.2 645.9,695.0" stroke-width="2.5"/>
<path d="M623.4,709.9 L644.4,698.0" stroke-width="2.5"/>
<path d="M644.4,698.0 C645.4,697.7 647.0,695.0 650.4,696.5 C653.7,698.0 662.1,703.3 664.6,706.9 C667.1,710.6 668.6,718.0 665.3,718.2 C662.1,718.3 648.6,711.1 645.1,707.7 C641.6,704.3 644.5,699.6 644.4,698.0" stroke-width="2.5"/>
<path d="M666.1,713.7 L729.7,750.4" stroke-width="2.5"/>
<path d="M690.0,726.4 L710.2,715.9 L717.7,720.4 L722.2,717.4 L728.2,720.4 L759.6,721.2" stroke-width="2.5"/>
<path d="M690.0,726.4 L690.0,739.9" stroke-width="2.5"/>
<path d="M660.8,680.0 L705.0,714.4" stroke-width="2.5"/>
<path d="M711.7,753.4 L711.7,773.6" stroke-width="2.5"/>
<path d="M719.2,775.8 L747.7,760.1" stroke-width="2.5"/>
<path d="M723.7,753.4 L729.7,750.4 L747.7,760.1 L758.1,765.3 L768.6,765.3" stroke-width="2.5"/>
<path d="M757.9,737.7 L757.9,751.6" stroke-width="2.5"/>
<path d="M757.9,751.6 L747.0,759.5" stroke-width="2.5"/>
<path d="M757.9,751.6 L772.3,759.5" stroke-width="2.5"/>
<path d="M797.5,738.6 C796.7,739.3 794.1,740.7 792.3,742.9 C790.6,745.1 788.8,749.3 787.1,751.6 C785.3,754.0 784.2,755.6 781.8,756.9 C779.5,758.2 774.6,759.1 773.1,759.5" stroke-width="2.5"/>
<path d="M740.0,721.6 L759.2,721.6" stroke-width="2.5"/>
<path d="M786.2,723.7 C782.6,725.6 768.6,732.0 764.4,735.1 C760.2,738.1 762.0,739.3 760.9,742.1 C759.8,744.8 758.4,750.0 757.9,751.6" stroke-width="2.5"/>
<path d="M777.5,740.3 L787.1,734.2" stroke-width="2.5"/>
<path d="M740.0,745.5 C742.5,743.9 751.3,739.3 754.8,736.0 C758.3,732.6 755.5,729.6 760.9,725.5 C766.3,721.4 782.7,713.9 787.1,711.5" stroke-width="2.5"/>
<path d="M880.0,887.0 L1030.4,985.5" stroke-width="2.5"/>
<path d="M1030.4,985.5 C1032.2,986.5 1038.4,990.4 1041.4,991.6 C1044.3,992.9 1046.2,992.5 1048.2,992.7 C1050.3,993.0 1052.8,993.0 1053.7,993.0" stroke-width="2.5"/>
<path d="M867.4,840.3 L867.4,858.1 L891.4,873.2 L891.4,862.2 L896.8,859.2 L1018.8,940.3 L1019.5,965.6 L1042.1,978.6" stroke-width="2.5"/>
<path d="M1042.1,978.6 C1043.5,979.1 1048.1,981.0 1051.0,981.4 C1053.8,981.8 1057.8,981.1 1059.2,981.1" stroke-width="2.5"/>
<path d="M1042.1,978.6 L1042.7,966.3" stroke-width="2.5"/>
<path d="M1042.7,966.3 C1043.7,965.7 1046.6,964.7 1048.2,962.9 C1049.8,961.1 1050.7,957.3 1052.3,955.3 C1053.9,953.4 1056.9,951.9 1057.8,951.2" stroke-width="2.5"/>
<path d="M1057.8,951.2 L1079.7,937.5" stroke-width="2.5"/>
<path d="M870.1,844.4 L891.4,859.5" stroke-width="2.5"/>
<path d="M853.7,833.4 L850.3,837.5 L849.6,856.7 L845.5,861.5" stroke-width="2.5"/>
<path d="M903.0,867.0 L900.3,873.2 L899.6,891.0 L895.5,895.1" stroke-width="2.5"/>
<path d="M917.4,875.9 L914.0,881.4 L914.0,900.5 L909.9,905.3" stroke-width="2.5"/>
<path d="M931.1,884.8 L927.7,889.6 L927.0,907.4 L922.9,912.2" stroke-width="2.5"/>
<path d="M1007.8,936.2 L1004.4,940.3 L1003.7,960.8 L1000.3,964.2" stroke-width="2.5"/>
<path d="M934.5,921.1 L935.9,903.3 L944.1,899.9 L963.3,912.9 L964.7,930.7 L959.2,936.2" stroke-width="2.5"/>
<path d="M940.0,921.1 L940.0,910.1 L955.8,919.7 L955.8,932.1" stroke-width="2.5"/>
<path d="M974.9,916.3 L975.6,926.6 L979.7,930.7" stroke-width="2.5"/>
<path d="M990.7,925.9 L991.4,936.2 L996.2,940.3" stroke-width="2.5"/>
<path d="M829.9,739.6 L890.7,780.0 L1079.7,934.8" stroke-width="2.5"/>
<path d="M853.8,723.6 C866.4,733.0 900.5,758.7 929.0,780.0 C957.6,801.3 1006.4,836.8 1024.9,851.2 C1043.4,865.6 1037.5,863.8 1040.0,866.3" stroke-width="2.5"/>
<path d="M1078.4,946.4 L1090.7,954.7 L1100.0,949.2" stroke-width="2.5"/>
<path d="M1053.7,960.8 L1068.8,971.1" stroke-width="2.5"/>
<path d="M408.8,500.0 L409.3,580.8" stroke-width="2.5"/>
<path d="M418.3,511.0 L418.3,572.9" stroke-width="2.5"/>
<path d="M430.3,525.9 L430.8,591.8" stroke-width="2.5"/>
<path d="M439.3,536.9 L439.3,586.8" stroke-width="2.5"/>
<path d="M450.7,548.9 L451.2,612.8" stroke-width="2.5"/>
<path d="M460.2,558.9 L460.7,620.8" stroke-width="2.5"/>
<path d="M398.8,603.8 L398.8,573.9 L407.8,566.9" stroke-width="2.5"/>
<path d="M410.8,580.8 C411.3,580.0 412.5,577.0 413.8,575.8 C415.1,574.7 416.3,573.4 418.8,573.9 C421.3,574.4 427.1,578.0 428.8,578.8" stroke-width="2.5"/>
<path d="M430.8,591.8 L437.8,587.8" stroke-width="2.5"/>
<path d="M437.8,587.8 C438.8,588.2 442.7,588.5 443.8,589.8 C444.8,591.2 444.2,594.8 444.3,595.8" stroke-width="2.5"/>
<path d="M444.3,595.8 L444.3,612.8 L439.3,613.8 L439.3,626.7" stroke-width="2.5"/>
<path d="M405.8,587.8 L426.8,599.3 L426.8,613.3 L405.8,601.8 Z" stroke-width="2.5"/>
<path d="M451.2,612.8 L456.7,616.8 L457.2,623.8" stroke-width="2.5"/>
<path d="M487.7,577.8 L489.7,582.8" stroke-width="2.5"/>
<path d="M507.6,560.9 L520.0,556.9" stroke-width="2.5"/>
<path d="M466.2,565.9 L467.7,571.9 L470.2,589.8" stroke-width="2.5"/>
<path d="M440.8,614.8 C443.8,616.4 453.9,621.9 458.7,624.8 C463.5,627.6 467.9,630.6 469.7,631.7" stroke-width="2.5"/>
<path d="M320.0,541.9 L361.9,566.4 L393.9,556.4 L393.9,500.0" stroke-width="2.5"/>
<path d="M1373.9,840.0 L1505.7,909.9" stroke-width="2.5"/>
<path d="M1415.8,840.0 L1526.6,897.9" stroke-width="2.5"/>
<path d="M1448.8,840.0 L1545.6,885.9" stroke-width="2.5"/>
<path d="M1390.9,986.7 L1395.9,980.7 L1405.9,975.7 L1412.9,975.7 L1413.9,981.7 L1406.9,986.7 L1415.8,992.7 L1432.8,1001.7 L1439.8,1001.7 L1454.8,1015.6 L1459.8,1031.6 L1457.8,1037.6 L1466.7,1056.6 L1471.7,1053.6 L1479.7,1052.6 L1489.7,1071.5 L1487.7,1078.5 L1475.7,1083.5 L1481.7,1085.5 L1491.7,1099.5 L1499.7,1125.4 L1499.7,1139.4 L1491.7,1151.4 L1483.7,1160.6" stroke-width="2.5"/>
<path d="M1390.9,988.7 L1431.8,1011.7 L1437.8,1019.6 L1483.7,1125.4 L1485.7,1139.4 L1481.7,1148.4 L1465.7,1160.6" stroke-width="2.5"/>
<path d="M1435.8,1011.7 L1439.8,1009.7 L1452.8,1028.6 L1448.8,1030.6" stroke-width="2.5"/>
<path d="M1483.7,1105.5 L1493.7,1123.4" stroke-width="2.5"/>
<path d="M1415.8,991.7 L1435.8,951.8 L1557.6,880.9" stroke-width="2.5"/>
<path d="M1427.8,979.7 L1445.8,994.7 L1451.8,991.7 L1519.6,953.8 L1515.6,945.8 L1557.6,894.9" stroke-width="2.5"/>
<path d="M1441.8,961.8 L1452.8,955.8 L1520.6,916.8" stroke-width="2.5"/>
<path d="M1453.8,955.8 L1453.8,991.7" stroke-width="2.5"/>
<path d="M1482.7,937.8 L1482.7,971.7" stroke-width="2.5"/>
<path d="M1512.7,920.8 L1512.7,955.8" stroke-width="2.5"/>
<path d="M1459.8,959.8 L1482.7,971.7" stroke-width="2.5"/>
<path d="M1487.7,943.8 L1512.7,957.8" stroke-width="2.5"/>
<path d="M1427.8,979.7 L1441.8,961.8" stroke-width="2.5"/>
<path d="M1452.8,1003.7 L1527.6,961.8 L1547.6,973.7 L1551.6,979.7 L1547.6,981.7 L1523.6,980.7 L1457.8,1018.6" stroke-width="2.5"/>
<path d="M1527.6,951.8 L1527.6,961.8" stroke-width="2.5"/>
<path d="M1519.6,942.8 L1527.6,948.8" stroke-width="2.5"/>
<path d="M1538.6,930.8 L1538.6,963.8 L1557.6,948.8" stroke-width="2.5"/>
<path d="M1557.6,895.9 L1531.6,932.8" stroke-width="2.5"/>
<path d="M1557.6,917.8 L1532.6,932.8" stroke-width="2.5"/>
<path d="M1521.6,983.7 L1519.6,1028.6 L1479.7,1051.6" stroke-width="2.5"/>
<path d="M1519.6,1028.6 L1557.6,1049.6" stroke-width="2.5"/>
<path d="M1485.7,1055.6 C1490.7,1053.7 1507.0,1046.4 1515.6,1044.6 C1524.3,1042.8 1531.3,1044.1 1537.6,1044.6 C1543.9,1045.1 1550.9,1047.1 1553.6,1047.6" stroke-width="2.5"/>
<path d="M1515.6,1044.6 L1519.6,1057.6 L1515.6,1075.5 L1511.7,1087.5 L1491.7,1099.5" stroke-width="2.5"/>
<path d="M1526.6,1045.6 L1526.6,1054.6 L1519.6,1057.6" stroke-width="2.5"/>
<path d="M1511.7,1087.5 L1557.6,1108.5" stroke-width="2.5"/>
<path d="M1513.7,1079.5 L1557.6,1099.5" stroke-width="2.5"/>
<path d="M1545.6,1062.6 L1533.6,1075.5 L1557.6,1089.5" stroke-width="2.5"/>
<path d="M1545.6,1062.6 L1557.6,1067.5" stroke-width="2.5"/>
<path d="M1497.7,1111.5 C1500.3,1110.5 1508.0,1106.6 1513.7,1105.5 C1519.3,1104.3 1525.6,1103.8 1531.6,1104.5 C1537.6,1105.1 1546.6,1108.6 1549.6,1109.5" stroke-width="2.5"/>
<path d="M1514.7,1107.5 L1513.7,1125.4 L1509.7,1127.4 L1507.7,1151.4 L1513.7,1160.6" stroke-width="2.5"/>
<path d="M1513.7,1125.4 L1557.6,1147.4" stroke-width="2.5"/>
<path d="M1548.6,1118.4 L1548.6,1134.4 L1557.6,1139.4" stroke-width="2.5"/>
<path d="M1527.6,1139.4 L1531.6,1160.6" stroke-width="2.5"/>
<path d="M1527.6,1139.4 L1557.6,1155.4" stroke-width="2.5"/>
<path d="M1571.5,881.9 C1572.9,880.8 1576.5,876.3 1579.5,874.9 C1582.5,873.6 1580.9,872.6 1589.5,873.9 C1598.2,875.3 1622.8,880.9 1631.4,882.9 C1640.1,884.9 1636.7,883.1 1641.4,885.9 C1646.1,888.7 1655.2,895.2 1659.4,899.9 C1663.5,904.5 1664.9,909.9 1666.3,913.9 C1667.8,917.8 1668.0,922.2 1668.3,923.8" stroke-width="2.5"/>
<path d="M1668.3,923.8 L1699.3,979.7 L1705.3,981.7 L1713.3,1008.7 L1713.3,1019.6 L1705.3,1029.6 L1699.3,1031.6 L1675.3,1057.6" stroke-width="2.5"/>
<path d="M1587.5,873.9 L1590.5,866.9 L1606.5,865.0 L1604.5,870.9" stroke-width="2.5"/>
<path d="M1571.5,901.9 C1572.9,900.2 1576.5,895.2 1579.5,891.9 C1582.5,888.6 1587.8,883.6 1589.5,881.9" stroke-width="2.5"/>
<path d="M1589.5,874.9 L1627.4,892.9 L1655.4,919.8 L1661.4,929.8 L1689.3,999.7 L1697.3,1015.6 L1693.3,1023.6 L1671.3,1041.6" stroke-width="2.5"/>
<path d="M1604.5,883.9 L1605.5,890.9 L1613.5,896.9 L1618.4,895.9 L1617.4,890.9" stroke-width="2.5"/>
<path d="M1639.4,892.9 L1657.4,910.9" stroke-width="2.5"/>
<path d="M1658.4,924.8 L1662.4,953.8 L1669.3,971.7 L1677.3,970.7 L1688.3,963.8 L1675.3,939.8 L1662.4,947.8" stroke-width="2.5"/>
<path d="M1699.3,987.7 L1707.3,1009.7" stroke-width="2.5"/>
<path d="M1571.5,932.8 L1645.4,979.7 L1659.4,1009.7 L1667.3,1013.7 L1669.3,1039.6 L1677.3,1069.5 L1671.3,1081.5 L1651.4,1093.5 L1645.4,1097.5 L1633.4,1099.5 L1571.5,1065.5" stroke-width="2.5"/>
<path d="M1571.5,947.8 L1635.4,995.7 L1639.4,988.7 L1637.4,979.7" stroke-width="2.5"/>
<path d="M1571.5,1039.6 L1574.5,1049.6 L1582.5,1055.6 L1583.5,1051.6 L1587.5,1027.6 L1595.5,1023.6 L1599.5,999.7 L1605.5,996.7 L1616.4,1005.7 L1617.4,1015.6 L1625.4,1007.7 L1639.4,999.7" stroke-width="2.5"/>
<path d="M1625.4,1007.7 L1645.4,1013.7 L1659.4,1009.7" stroke-width="2.5"/>
<path d="M1645.4,1013.7 L1645.4,1037.6" stroke-width="2.5"/>
<path d="M1623.4,1015.6 L1629.4,1027.6 L1645.4,1037.6 L1667.3,1027.6" stroke-width="2.5"/>
<path d="M1612.5,1013.7 L1617.4,1031.6 L1639.4,1043.6 L1651.4,1089.5" stroke-width="2.5"/>
<path d="M1651.4,1058.6 L1667.3,1049.6 L1673.3,1075.5 L1657.4,1081.5 L1651.4,1058.6" stroke-width="2.5"/>
<path d="M1571.5,1077.5 L1595.5,1091.5 L1582.5,1103.5 L1571.5,1099.5" stroke-width="2.5"/>
<path d="M1571.5,1111.5 L1601.5,1129.4 L1599.5,1145.4 L1609.5,1139.4 L1627.4,1097.5" stroke-width="2.5"/>
<path d="M1635.4,1103.5 L1615.4,1160.6" stroke-width="2.5"/>
<path d="M1661.4,1089.5 L1657.4,1105.5 L1649.4,1109.5 L1641.4,1160.6" stroke-width="2.5"/>
<path d="M1571.5,1125.4 L1599.5,1145.4" stroke-width="2.5"/>
<path d="M1571.5,999.7 L1571.5,1007.7" stroke-width="2.5"/>
<path d="M734.9,455.5 L703.6,470.9 L703.6,464.9 L685.6,475.9 L639.7,499.8 L637.7,501.8 L622.7,500.8 L621.7,507.8 L602.8,510.8 L555.8,539.8 L551.9,538.8 L537.9,539.8 L537.9,544.8 L518.9,549.7 L509.9,559.7" stroke-width="2.5"/>
<path d="M518.9,549.7 L519.9,571.7 L547.9,581.7 L547.9,573.7 L572.8,562.7 L572.8,571.7 L631.7,543.8 L633.7,533.8 L657.6,530.8 L713.5,504.8 L713.5,497.8 L739.5,487.9 L739.5,493.9 L772.4,477.9 L777.4,476.9 L778.4,483.9 L539.9,596.6" stroke-width="2.5"/>
<path d="M530.9,590.7 L777.4,477.9" stroke-width="2.5"/>
<path d="M551.9,538.8 L572.8,562.7" stroke-width="2.5"/>
<path d="M528.9,551.7 L541.9,581.7" stroke-width="2.5"/>
<ellipse cx="547.9" cy="554.1" rx="8.0" ry="6.4" transform="rotate(0.0 547.9 554.1)" stroke-width="2.5"/>
<path d="M565.8,550.7 L603.8,533.8" stroke-width="2.5"/>
<ellipse cx="597.8" cy="546.7" rx="7.6" ry="4.4" transform="rotate(0.0 597.8 546.7)" stroke-width="2.5"/>
<path d="M602.8,510.8 L603.8,533.8 L633.7,541.8 L633.7,533.8" stroke-width="2.5"/>
<path d="M613.7,512.8 L624.7,541.8" stroke-width="2.5"/>
<ellipse cx="632.7" cy="516.2" rx="8.0" ry="6.4" transform="rotate(0.0 632.7 516.2)" stroke-width="2.5"/>
<path d="M637.7,501.8 L655.6,520.8 L657.6,530.8" stroke-width="2.5"/>
<path d="M649.7,509.8 L685.6,495.8" stroke-width="2.5"/>
<ellipse cx="660.6" cy="518.2" rx="7.0" ry="4.4" transform="rotate(0.0 660.6 518.2)" stroke-width="2.5"/>
<path d="M685.6,475.9 L685.6,497.8 L713.5,505.8" stroke-width="2.5"/>
<path d="M695.6,478.9 L707.5,505.8" stroke-width="2.5"/>
<ellipse cx="713.5" cy="480.3" rx="8.4" ry="6.4" transform="rotate(0.0 713.5 480.3)" stroke-width="2.5"/>
<ellipse cx="744.5" cy="478.3" rx="7.0" ry="4.4" transform="rotate(0.0 744.5 478.3)" stroke-width="2.5"/>
<path d="M719.5,466.9 L739.5,487.9" stroke-width="2.5"/>
<path d="M719.5,467.9 L735.5,456.9 L736.5,467.9 L747.5,467.9 L757.4,458.9 L771.4,469.9 L772.4,477.9" stroke-width="2.5"/>
<path d="M703.6,464.9 L719.5,463.9" stroke-width="2.5"/>
<path d="M1641.4,1151.1 L1628.3,1189.7" stroke-width="2.5"/>
<path d="M1614.6,1156.0 L1607.2,1176.0" stroke-width="2.5"/>
<path d="M1609.7,1142.3 L1594.7,1176.0" stroke-width="2.5"/>
<path d="M1571.1,1163.5 L1613.4,1187.2 L1623.4,1180.9 L1633.3,1209.6 L1622.1,1213.3 L1613.4,1188.4" stroke-width="2.5"/>
<path d="M1562.3,1181.6 L1620.9,1210.8" stroke-width="2.5"/>
<path d="M1622.1,1213.3 L1605.9,1231.4" stroke-width="2.5"/>
<path d="M1551.1,1197.1 L1567.3,1208.3 L1581.0,1213.3 L1582.3,1219.6 L1605.9,1231.4" stroke-width="2.5"/>
<path d="M1622.1,1214.6 L1615.9,1246.9 L1607.2,1250.7" stroke-width="2.5"/>
<path d="M1605.9,1231.4 L1607.2,1256.9" stroke-width="2.5"/>
<path d="M1607.2,1256.9 C1604.3,1259.0 1596.0,1266.0 1589.7,1269.4 C1583.5,1272.7 1575.2,1271.7 1569.8,1276.8 C1564.4,1281.9 1559.4,1296.1 1557.4,1300.0" stroke-width="2.5"/>
<path d="M1605.9,1239.5 L1572.3,1254.4 L1549.9,1296.8 L1528.7,1294.3" stroke-width="2.5"/>
<path d="M1548.6,1242.0 C1552.6,1244.0 1565.5,1253.4 1572.3,1254.4 C1579.2,1255.5 1584.1,1250.7 1589.7,1248.2 C1595.3,1245.7 1603.2,1240.9 1605.9,1239.5" stroke-width="2.5"/>
<ellipse cx="1579.8" cy="1233.9" rx="19.9" ry="10.0" transform="rotate(20.0 1579.8 1233.9)" stroke-width="2.5"/>
<ellipse cx="1579.8" cy="1232.6" rx="12.5" ry="5.6" transform="rotate(20.0 1579.8 1232.6)" stroke-width="2.5"/>
<path d="M1571.1,1154.8 L1597.2,1168.5" stroke-width="2.5"/>
<path d="M380.0,244.1 L343.9,258.3 L344.3,263.5 L343.1,265.5 L329.5,271.9 L329.1,281.9 L313.5,290.3" stroke-width="2.5"/>
<path d="M363.0,257.5 L380.0,249.3" stroke-width="2.5"/>
<path d="M371.8,260.7 L380.0,255.6" stroke-width="2.5"/>
<path d="M357.4,257.5 L371.8,262.3 L371.8,271.1" stroke-width="2.5"/>
<path d="M371.8,271.1 C369.8,272.2 363.8,276.0 359.8,277.5 C355.8,278.9 352.1,279.1 347.9,279.9 C343.6,280.6 336.6,281.5 334.3,281.9" stroke-width="2.5"/>
<path d="M372.6,265.9 L383.8,265.9" stroke-width="2.5"/>
<path d="M383.8,265.9 C385.1,266.1 389.9,266.1 391.8,267.1 C393.6,268.1 394.7,269.9 395.0,271.9 C395.2,273.9 394.2,277.6 393.4,279.1 C392.6,280.5 390.7,280.4 390.2,280.7" stroke-width="2.5"/>
<path d="M390.2,280.7 L369.4,280.7 L367.0,283.9 L367.0,296.6" stroke-width="2.5"/>
<path d="M367.0,296.6 C366.6,297.6 365.6,301.0 364.6,302.2 C363.7,303.4 363.6,303.4 361.4,303.8 C359.3,304.2 353.5,304.5 351.9,304.6" stroke-width="2.5"/>
<path d="M351.9,304.6 L339.1,303.8 L313.5,295.0" stroke-width="2.5"/>
<path d="M313.5,290.3 L325.5,283.9 L329.5,283.9 L345.5,287.9 L345.5,303.0" stroke-width="2.5"/>
<ellipse cx="352.3" cy="288.7" rx="3.6" ry="5.7" transform="rotate(15.0 352.3 288.7)" stroke-width="2.5"/>
<path d="M313.1,290.3 C309.3,288.4 295.0,280.3 290.4,279.1 C285.8,277.9 286.3,280.9 285.6,283.1 C284.9,285.2 285.3,289.5 286.4,291.9 C287.5,294.3 287.5,294.7 292.0,297.4 C296.5,300.2 309.9,306.8 313.5,308.6" stroke-width="2.5"/>
<path d="M1173.7,879.8 C1175.4,878.8 1175.1,878.9 1183.7,873.8 C1192.4,868.6 1218.6,853.0 1225.6,848.8" stroke-width="2.5"/>
<path d="M1225.6,848.8 L1323.4,793.9" stroke-width="2.5"/>
<path d="M1323.4,793.9 C1326.1,793.3 1334.1,790.3 1339.4,789.9 C1344.7,789.6 1352.7,791.6 1355.4,791.9" stroke-width="2.5"/>
<path d="M1355.4,791.9 L1440.0,834.9" stroke-width="2.5"/>
<path d="M1173.7,879.8 C1173.4,881.3 1170.7,885.4 1171.7,888.7 C1172.7,892.1 1177.1,897.2 1179.7,899.7 C1182.4,902.2 1186.4,903.0 1187.7,903.7" stroke-width="2.5"/>
<path d="M1187.7,903.7 L1345.4,997.5" stroke-width="2.5"/>
<path d="M1345.4,997.5 C1347.7,998.3 1354.0,1001.9 1359.4,1001.9 C1364.7,1001.9 1374.3,998.3 1377.3,997.5" stroke-width="2.5"/>
<path d="M1169.7,905.7 C1170.1,905.7 1170.4,905.2 1171.7,905.7 C1173.1,906.2 1176.7,908.2 1177.7,908.7" stroke-width="2.5"/>
<path d="M1177.7,908.7 L1337.4,1007.5" stroke-width="2.5"/>
<path d="M1337.4,1007.5 C1339.4,1008.0 1344.4,1010.7 1349.4,1010.5 C1354.4,1010.3 1362.5,1008.8 1367.3,1006.5 C1372.2,1004.2 1376.5,998.2 1378.3,996.5" stroke-width="2.5"/>
<path d="M1205.7,889.7 C1207.0,888.7 1210.3,885.9 1213.7,883.8 C1217.0,881.6 1223.6,877.9 1225.6,876.8" stroke-width="2.5"/>
<path d="M1225.6,876.8 L1343.4,809.9" stroke-width="2.5"/>
<path d="M1343.4,809.9 C1345.2,809.7 1351.4,808.7 1354.4,808.9 C1357.4,809.1 1360.2,810.6 1361.4,810.9" stroke-width="2.5"/>
<path d="M1361.4,810.9 L1440.0,851.8" stroke-width="2.5"/>
<path d="M1225.6,876.8 C1222.3,878.9 1209.3,886.2 1205.7,889.7 C1202.0,893.2 1201.7,895.1 1203.7,897.7 C1205.7,900.4 1215.3,904.4 1217.6,905.7" stroke-width="2.5"/>
<path d="M1217.6,905.7 L1359.4,983.6" stroke-width="2.5"/>
<path d="M1359.4,983.6 C1362.0,984.6 1370.3,988.7 1375.3,989.5 C1380.3,990.4 1387.0,988.7 1389.3,988.5" stroke-width="2.5"/>
<path d="M1219.6,903.7 L1345.4,831.9" stroke-width="2.5"/>
<path d="M1345.4,831.9 C1346.9,831.6 1351.4,830.0 1354.4,830.3 C1357.4,830.5 1361.9,832.9 1363.4,833.5" stroke-width="2.5"/>
<path d="M1363.4,833.5 L1440.0,873.8" stroke-width="2.5"/>
<ellipse cx="1347.4" cy="801.9" rx="7.0" ry="4.0" transform="rotate(0.0 1347.4 801.9)" stroke-width="2.5"/>
<ellipse cx="1192.7" cy="892.7" rx="7.0" ry="4.4" transform="rotate(0.0 1192.7 892.7)" stroke-width="2.5"/>
<path d="M1173.7,879.8 C1171.1,882.4 1165.4,887.1 1157.8,895.7 C1150.1,904.4 1135.8,922.0 1127.8,931.7 C1119.8,941.3 1116.5,947.3 1109.9,953.6 C1103.2,959.9 1093.9,965.6 1087.9,969.6 C1081.9,973.6 1076.3,976.2 1073.9,977.6" stroke-width="2.5"/>
<path d="M1170.7,905.7 C1166.2,910.7 1152.9,925.3 1143.8,935.6 C1134.6,946.0 1123.2,959.4 1115.8,967.6 C1108.5,975.7 1104.2,981.1 1099.9,984.6 C1095.6,988.0 1093.2,988.7 1089.9,988.5 C1086.6,988.4 1081.6,984.4 1079.9,983.6" stroke-width="2.5"/>
<path d="M1170.7,905.7 L1175.7,907.7" stroke-width="2.5"/>
<path d="M1040.0,991.5 C1042.7,991.9 1051.3,993.9 1056.0,993.5 C1060.6,993.2 1064.3,991.9 1067.9,989.5 C1071.6,987.2 1074.6,982.6 1077.9,979.6 C1081.3,976.6 1086.2,972.9 1087.9,971.6" stroke-width="2.5"/>
<path d="M1079.9,946.6 L1101.9,931.7 L1115.8,937.6 L1091.9,953.6 Z" stroke-width="2.5"/>
<path d="M1055.0,953.6 L1109.9,919.7 L1115.8,919.7 L1127.8,929.7" stroke-width="2.5"/>
<path d="M1055.0,953.6 C1054.0,954.6 1050.1,957.6 1049.0,959.6 C1047.8,961.6 1049.5,964.9 1048.0,965.6 C1046.5,966.3 1041.3,963.9 1040.0,963.6" stroke-width="2.5"/>
<path d="M1054.0,960.6 L1067.9,970.6" stroke-width="2.5"/>
<path d="M1040.0,963.6 C1040.3,965.9 1040.0,974.6 1042.0,977.6 C1044.0,980.6 1048.3,981.2 1052.0,981.6 C1055.6,981.9 1060.3,981.6 1064.0,979.6 C1067.6,977.6 1070.8,971.6 1073.9,969.6 C1077.1,967.6 1081.4,967.9 1082.9,967.6" stroke-width="2.5"/>
<path d="M1080.9,995.5 C1084.7,1000.9 1096.4,1018.5 1103.9,1027.5 C1111.4,1036.4 1113.9,1040.6 1125.8,1049.4 C1137.8,1058.3 1147.1,1061.9 1175.7,1080.6 C1204.3,1099.2 1256.9,1134.1 1297.5,1161.2 C1338.1,1188.3 1398.9,1229.6 1419.2,1243.2" stroke-width="2.5"/>
<path d="M1143.8,937.6 L1317.4,1043.4" stroke-width="2.5"/>
<path d="M1317.4,1043.4 C1319.4,1043.8 1323.8,1046.8 1329.4,1045.8 C1335.1,1044.8 1347.7,1038.8 1351.4,1037.4" stroke-width="2.5"/>
<path d="M1351.4,1037.4 L1393.3,997.5" stroke-width="2.5"/>
<path d="M1124.8,857.8 L1124.8,891.7" stroke-width="2.5"/>
<path d="M1040.0,866.6 L1075.9,899.7 L1097.9,923.7" stroke-width="2.5"/>
<path d="M1077.9,760.0 L1131.8,796.9 L1133.8,805.9 L1150.8,817.9 L1152.8,810.9 L1215.6,851.8" stroke-width="2.5"/>
<path d="M1095.9,760.0 L1215.6,839.8 L1224.6,847.8" stroke-width="2.5"/>
<path d="M1121.8,760.0 L1215.6,824.9 L1215.6,839.8" stroke-width="2.5"/>
<path d="M1344.4,835.8 L1357.4,979.6" stroke-width="2.5"/>
<path d="M1362.4,836.8 L1375.3,987.5" stroke-width="2.5"/>
<path d="M1387.3,925.7 L1391.3,971.6" stroke-width="2.5"/>
<path d="M1484.2,1120.0 C1484.6,1122.4 1487.2,1130.3 1486.6,1134.6 C1486.1,1138.9 1484.6,1140.8 1481.0,1145.9 C1477.3,1151.0 1470.2,1159.1 1464.8,1165.3 C1459.4,1171.6 1452.9,1178.0 1448.6,1183.2 C1444.3,1188.3 1441.2,1191.5 1438.9,1196.1 C1436.6,1200.7 1435.5,1208.3 1434.8,1210.7" stroke-width="2.5"/>
<path d="M1434.8,1210.7 L1390.9,1376.0" stroke-width="2.5"/>
<path d="M1498.8,1120.0 C1498.9,1122.7 1500.1,1131.6 1499.6,1136.2 C1499.1,1140.8 1498.1,1143.5 1495.5,1147.5 C1493.0,1151.6 1488.8,1155.6 1484.2,1160.5 C1479.6,1165.3 1473.7,1171.0 1468.0,1176.7 C1462.3,1182.3 1453.2,1191.5 1450.2,1194.5" stroke-width="2.5"/>
<path d="M1450.2,1194.5 L1455.1,1204.2 L1453.4,1215.5 L1460.7,1220.4 L1460.7,1231.7 L1455.1,1235.0 L1440.5,1238.2 L1437.2,1249.6 L1417.8,1314.3 L1421.1,1320.8 L1421.1,1330.5 L1414.6,1361.3 L1400.0,1366.2 L1390.9,1376.0" stroke-width="2.5"/>
<path d="M1446.2,1203.4 L1448.6,1205.8 L1442.1,1230.1 L1438.9,1228.5" stroke-width="2.5"/>
<path d="M1448.6,1217.2 L1459.9,1223.6 L1458.3,1231.7 L1448.6,1236.6 L1448.6,1217.2" stroke-width="2.5"/>
<path d="M1456.7,1199.4 L1477.7,1191.3 L1487.4,1184.8 L1487.4,1176.7 L1478.5,1167.0" stroke-width="2.5"/>
<path d="M1477.7,1191.3 L1477.7,1199.4 L1493.9,1208.3" stroke-width="2.5"/>
<path d="M1487.4,1188.8 L1505.3,1199.4" stroke-width="2.5"/>
<path d="M1497.2,1171.8 L1503.6,1168.6 L1502.0,1179.9 L1487.4,1188.0" stroke-width="2.5"/>
<path d="M1493.1,1155.6 L1519.8,1192.9" stroke-width="2.5"/>
<path d="M1400.0,1230.1 L1419.4,1243.1" stroke-width="2.5"/>
<path d="M1400.0,1290.0 L1404.9,1294.1" stroke-width="2.5"/>
<path d="M1506.9,1216.4 L1540.9,1235.0 L1542.5,1243.1 L1537.7,1262.5 L1537.7,1277.1 L1540.9,1290.0 L1549.0,1294.9" stroke-width="2.5"/>
<path d="M1537.7,1262.5 L1547.4,1269.0 L1542.5,1290.0" stroke-width="2.5"/>
<path d="M1527.9,1294.9 L1537.7,1290.0" stroke-width="2.5"/>
<path d="M1539.3,1301.4 L1549.0,1296.5" stroke-width="2.5"/>
<path d="M1547.4,1306.2 L1559.5,1298.1" stroke-width="2.5"/>
<path d="M1519.8,1207.4 L1542.5,1220.4" stroke-width="2.5"/>
<path d="M1527.9,1202.6 L1540.9,1217.2" stroke-width="2.5"/>
<path d="M1536.0,1196.1 L1549.0,1210.7" stroke-width="2.5"/>
<path d="M1545.7,1192.9 L1559.5,1204.2" stroke-width="2.5"/>
<path d="M1549.0,1239.8 L1559.5,1244.7" stroke-width="2.5"/>
<path d="M1432.4,1280.3 L1434.0,1286.8 L1448.6,1286.0 L1452.6,1298.1 L1438.9,1303.0 L1441.3,1320.8 L1429.1,1332.1 L1430.0,1337.0 L1458.3,1321.6 L1503.6,1295.7" stroke-width="2.5"/>
<path d="M1419.4,1312.7 L1438.9,1322.4" stroke-width="2.5"/>
<path d="M1459.1,1321.6 L1482.6,1335.4 L1527.9,1309.5" stroke-width="2.5"/>
<path d="M1421.1,1338.6 L1434.8,1345.1 L1435.6,1354.0 L1464.8,1337.0 L1480.2,1345.9 L1536.0,1314.3" stroke-width="2.5"/>
<path d="M1421.1,1344.3 L1434.0,1350.0" stroke-width="2.5"/>
<path d="M1510.1,1126.5 L1506.9,1150.8 L1513.4,1154.8 L1511.7,1173.4 L1531.2,1184.8" stroke-width="2.5"/>
<path d="M1513.4,1126.5 L1559.5,1149.1" stroke-width="2.5"/>
<path d="M1527.9,1141.1 L1536.0,1181.5" stroke-width="2.5"/>
<path d="M1527.9,1140.2 L1559.5,1154.0" stroke-width="2.5"/>
<path d="M1549.0,1120.0 L1549.0,1134.6 L1559.5,1141.1" stroke-width="2.5"/>
<path d="M1506.9,1150.8 L1559.5,1175.1" stroke-width="2.5"/>
<path d="M1537.7,1163.7 L1542.5,1178.3" stroke-width="2.5"/>
<path d="M1436.2,1492.4 L1436.2,1523.2" stroke-width="2.5"/>
<path d="M1420.7,1417.7 C1421.8,1417.1 1424.9,1414.9 1427.3,1414.0 C1429.6,1413.0 1432.2,1411.8 1434.7,1412.1 C1437.2,1412.4 1441.0,1415.2 1442.2,1415.8" stroke-width="2.5"/>
<path d="M1442.2,1415.8 L1472.1,1434.5" stroke-width="2.5"/>
<path d="M1472.1,1434.5 C1472.9,1435.7 1475.5,1439.5 1476.8,1442.0 C1478.0,1444.5 1479.1,1448.2 1479.6,1449.4" stroke-width="2.5"/>
<path d="M1479.6,1449.4 L1488.9,1449.4 L1490.8,1452.3 L1485.2,1465.3 L1472.1,1470.0 L1462.7,1479.3 L1461.8,1483.1 L1472.1,1479.3 L1474.9,1484.0 L1468.4,1494.3 L1460.9,1499.9 L1454.3,1498.0 L1454.3,1493.3 L1457.1,1490.5 L1447.8,1485.9 L1444.1,1490.5 L1438.5,1486.8" stroke-width="2.5"/>
<path d="M1420.7,1417.7 L1422.6,1423.3 L1470.2,1450.4 L1475.8,1447.6" stroke-width="2.5"/>
<path d="M1397.4,1458.8 L1404.8,1454.1 L1416.0,1457.9 L1445.9,1487.7" stroke-width="2.5"/>
<path d="M1397.4,1458.8 L1438.5,1490.5 L1445.0,1490.5" stroke-width="2.5"/>
<path d="M1422.6,1424.2 C1421.5,1425.0 1418.4,1425.9 1416.0,1428.9 C1413.7,1431.9 1410.1,1438.6 1408.6,1442.0 C1407.0,1445.4 1406.5,1447.6 1406.7,1449.4 C1406.9,1451.3 1407.9,1452.4 1409.5,1453.2 C1411.1,1454.0 1415.0,1454.0 1416.0,1454.1" stroke-width="2.5"/>
<path d="M1427.3,1428.0 L1415.1,1453.2" stroke-width="2.5"/>
<path d="M1439.4,1439.2 C1443.6,1439.8 1450.9,1441.8 1453.4,1445.7 C1455.9,1449.6 1456.2,1458.0 1454.3,1462.5 C1452.5,1467.0 1446.4,1471.7 1442.2,1472.8 C1438.0,1473.9 1432.2,1472.0 1429.1,1469.1 C1426.0,1466.1 1423.7,1459.6 1423.5,1455.1 C1423.4,1450.5 1425.5,1444.6 1428.2,1442.0 C1430.8,1439.3 1435.2,1438.6 1439.4,1439.2 Z" stroke-width="2.5"/>
<ellipse cx="1438.1" cy="1452.3" rx="6.7" ry="9.3" transform="rotate(-30.0 1438.1 1452.3)" stroke-width="2.5"/>
<path d="M1433.8,1447.6 L1442.2,1457.9" stroke-width="2.5"/>
<path d="M1913.7,653.1 L1913.7,697.1" stroke-width="2.5"/>
<path d="M1874.7,753.7 L1762.8,821.6 L1673.5,775.0 L1620.7,804.0" stroke-width="2.5" stroke-dasharray="72 5 9 5" stroke-dashoffset="0" stroke-linecap="butt"/>
<path d="M1598.1,817.8 L1564.1,837.9" stroke-width="2.5"/>
<path d="M1595.6,587.7 L1617.0,635.5 L1617.0,646.8 L1603.1,668.1 L1605.6,685.8 L1598.1,688.3 L1598.1,731.0 L1583.0,768.8 L1567.9,811.5 L1569.2,816.5 L1576.7,821.6" stroke-width="2.5"/>
<path d="M1632.0,614.1 C1632.7,609.7 1632.7,593.1 1635.8,587.7 C1639.0,582.2 1645.9,581.6 1650.9,581.4 C1655.9,581.2 1662.2,583.7 1666.0,586.4 C1669.8,589.1 1672.3,595.8 1673.5,597.7" stroke-width="2.5"/>
<path d="M1673.5,597.7 L1696.2,656.8 L1696.2,685.8" stroke-width="2.5"/>
<path d="M1696.2,685.8 C1695.3,687.4 1694.5,693.5 1691.1,695.8 C1687.8,698.1 1680.7,697.5 1676.1,699.6 C1671.4,701.7 1667.0,704.4 1663.5,708.4 C1659.9,712.4 1656.1,721.0 1654.7,723.5" stroke-width="2.5"/>
<path d="M1654.7,723.5 L1644.6,753.7 L1620.7,804.0 L1610.7,824.1" stroke-width="2.5"/>
<path d="M1610.7,824.1 C1609.4,825.1 1606.5,829.3 1603.1,830.4 C1599.8,831.4 1592.6,830.4 1590.5,830.4" stroke-width="2.5"/>
<ellipse cx="1653.9" cy="605.3" rx="10.1" ry="13.8" transform="rotate(-20.0 1653.9 605.3)" stroke-width="2.5"/>
<path d="M1632.0,614.1 L1645.9,625.4 L1684.9,649.3" stroke-width="2.5"/>
<path d="M1645.9,625.4 L1632.0,614.1" stroke-width="2.5"/>
<path d="M1666.0,570.1 L1681.1,576.3 L1716.3,646.8 L1727.6,670.7 L1727.6,697.1 L1721.3,702.1 L1712.5,704.6 L1708.8,697.1 L1708.8,685.8 L1726.4,675.7" stroke-width="2.5"/>
<path d="M1713.8,646.8 L1713.8,678.2" stroke-width="2.5"/>
<path d="M1637.1,571.3 L1618.2,575.1 L1595.6,587.7" stroke-width="2.5"/>
<path d="M1630.8,680.7 L1652.2,693.3 L1625.8,743.6 L1608.1,733.5 L1630.8,680.7" stroke-width="2.5"/>
<path d="M1620.7,703.4 L1644.6,714.7" stroke-width="2.5"/>
<ellipse cx="1624.5" cy="722.2" rx="7.0" ry="9.6" transform="rotate(-15.0 1624.5 722.2)" stroke-width="2.5"/>
<path d="M1618.2,746.1 L1638.3,754.9 L1623.2,786.4 L1610.7,781.3 L1618.2,746.1" stroke-width="2.5"/>
<path d="M1610.7,781.3 L1625.8,787.6" stroke-width="2.5"/>
<path d="M1600.6,782.6 L1618.2,786.4 L1620.7,795.2 L1610.7,811.5 L1599.3,811.5 L1595.6,801.4" stroke-width="2.5"/>
<path d="M1585.5,758.7 L1599.3,761.2 L1598.1,776.3 L1586.8,781.3 L1583.0,776.3" stroke-width="2.5"/>
<path d="M1598.1,736.1 L1605.6,741.1 L1603.1,751.1 L1593.1,751.1 L1590.5,746.1" stroke-width="2.5"/>
<path d="M1580.5,783.8 L1586.8,787.6 L1580.5,806.5 L1570.4,809.0 L1569.2,801.4" stroke-width="2.5"/>
<path d="M1653.4,726.0 L1698.7,748.6 L1726.4,743.6 L1749.0,733.5 L1777.9,719.7 L1780.4,709.6" stroke-width="2.5"/>
<path d="M1698.7,748.6 L1697.4,697.1 L1706.2,700.8 L1706.2,738.6" stroke-width="2.5"/>
<path d="M1718.8,708.4 L1746.5,724.7" stroke-width="2.5"/>
<path d="M1752.8,718.5 L1805.6,690.8 L1805.6,703.4 L1752.8,724.7 L1752.8,718.5" stroke-width="2.5"/>
<path d="M1745.2,736.1 C1747.1,737.3 1753.0,743.0 1756.5,743.6 C1760.1,744.2 1763.9,741.5 1766.6,739.8 C1769.3,738.2 1771.0,736.9 1772.9,733.5 C1774.8,730.2 1777.1,722.0 1777.9,719.7" stroke-width="2.5"/>
<path d="M1759.1,727.3 L1759.1,733.5 L1762.8,733.5" stroke-width="2.5"/>
<path d="M1653.4,726.0 L1650.9,741.1 L1658.5,751.1 L1667.3,746.1 L1671.0,733.5" stroke-width="2.5"/>
<ellipse cx="1658.5" cy="741.1" rx="3.8" ry="5.0" transform="rotate(-20.0 1658.5 741.1)" stroke-width="2.5"/>
<path d="M1727.6,683.2 L1749.0,675.7 L1756.5,636.7 L1766.6,595.2" stroke-width="2.5"/>
<path d="M1749.0,678.2 L1795.5,685.8" stroke-width="2.5"/>
<path d="M1766.6,595.2 L1761.6,577.6 L1759.1,560.0" stroke-width="2.5"/>
<path d="M1770.4,597.7 L1809.4,619.1 L1828.2,620.4 L1828.2,668.1 L1819.4,688.3 L1805.6,703.4" stroke-width="2.5"/>
<path d="M1809.4,621.6 L1809.4,646.8 L1827.0,646.8" stroke-width="2.5"/>
<path d="M1766.6,578.9 L1809.4,562.5" stroke-width="2.5"/>
<path d="M1696.2,595.2 L1716.3,580.1 L1751.5,560.0" stroke-width="2.5"/>
<path d="M1828.2,620.4 L1845.8,626.6 L1859.7,617.8 L1860.9,600.2 L1852.1,600.2 L1843.3,606.5 L1842.1,617.8 L1845.8,626.6" stroke-width="2.5"/>
<path d="M1844.6,600.2 L1844.6,572.6 L1839.5,560.0" stroke-width="2.5"/>
<path d="M1852.1,600.2 L1860.9,590.2 L1862.2,560.0" stroke-width="2.5"/>
<path d="M1910.4,711.1 C1910.3,710.1 1909.2,707.1 1909.8,704.9 C1910.4,702.7 1912.1,699.8 1914.2,698.1 C1916.2,696.3 1919.9,695.3 1922.3,694.6 C1924.7,694.0 1926.2,693.5 1928.5,694.0 C1930.8,694.5 1933.5,695.6 1936.0,697.4 C1938.5,699.3 1941.5,702.4 1943.4,704.9 C1945.4,707.4 1947.1,709.8 1947.8,712.4 C1948.5,715.0 1948.6,717.6 1947.8,720.5 C1947.0,723.4 1945.0,727.3 1942.8,729.8 C1940.6,732.3 1937.1,734.6 1934.7,735.4 C1932.3,736.2 1930.3,735.5 1928.5,734.8 C1926.7,734.1 1924.9,731.7 1924.1,731.1" stroke-width="2.6"/>
<path d="M1924.8,695.9 C1925.7,696.0 1928.4,695.6 1930.4,696.5 C1932.3,697.4 1934.6,699.1 1936.6,701.2 C1938.6,703.2 1940.7,706.4 1942.2,708.6 C1943.6,710.9 1944.7,713.0 1945.3,714.9 C1945.9,716.7 1945.6,719.0 1945.6,719.9" stroke-width="2.6"/>
<path d="M1929.1,698.1 C1930.0,698.8 1933.0,700.8 1934.7,702.4 C1936.5,704.1 1938.2,705.9 1939.7,708.0 C1941.2,710.1 1942.8,713.7 1943.4,714.9" stroke-width="2.6"/>
<path d="M1880.5,737.9 C1881.3,737.0 1883.2,733.8 1884.9,732.3 C1886.6,730.9 1889.3,730.2 1890.5,729.2 C1891.8,728.2 1891.2,727.1 1892.4,726.1 C1893.5,725.0 1895.9,724.0 1897.4,723.0 C1898.8,721.9 1899.6,720.8 1901.1,719.9 C1902.5,718.9 1904.7,718.1 1906.1,717.4 C1907.4,716.6 1908.0,716.4 1909.2,715.5 C1910.3,714.6 1911.8,712.7 1912.9,711.8 C1914.1,710.8 1914.4,710.4 1916.0,709.9 C1917.7,709.4 1920.8,708.4 1922.9,708.6 C1925.0,708.9 1926.8,709.7 1928.5,711.1 C1930.2,712.6 1932.2,715.3 1932.9,717.4 C1933.5,719.4 1933.2,721.6 1932.2,723.6 C1931.3,725.6 1928.8,727.7 1927.2,729.2 C1925.7,730.6 1923.6,731.8 1922.9,732.3" stroke-width="2.6"/>
<path d="M1878.7,751.6 C1879.7,751.5 1882.9,750.8 1884.9,751.0 C1886.9,751.2 1888.9,753.3 1890.5,752.9 C1892.2,752.4 1893.3,749.6 1894.9,748.5 C1896.4,747.4 1898.0,746.7 1899.9,746.0 C1901.7,745.3 1904.5,745.0 1906.1,744.1 C1907.6,743.3 1907.8,741.9 1909.2,741.0 C1910.5,740.2 1913.0,740.0 1914.2,739.2 C1915.3,738.3 1914.8,737.0 1916.0,736.0 C1917.3,735.1 1920.1,734.5 1921.6,733.5 C1923.2,732.6 1924.8,731.0 1925.4,730.4" stroke-width="2.6"/>
<path d="M1886.8,734.2 C1887.5,735.1 1890.1,737.4 1891.1,739.8 C1892.2,742.2 1892.7,747.0 1893.0,748.5" stroke-width="2.6"/>
<path d="M1894.9,732.3 C1895.5,733.4 1897.7,736.9 1898.6,739.2 C1899.5,741.4 1900.2,744.9 1900.5,746.0" stroke-width="2.6"/>
<path d="M1901.1,724.8 C1901.9,725.9 1904.9,728.7 1906.1,731.1 C1907.2,733.4 1907.6,737.8 1907.9,739.2" stroke-width="2.6"/>
<path d="M1909.2,719.9 C1910.0,720.9 1913.2,723.5 1914.2,726.1 C1915.1,728.7 1914.7,733.9 1914.8,735.4" stroke-width="2.6"/>
<path d="M1916.0,714.9 C1916.9,716.1 1920.1,719.3 1921.0,722.3 C1922.0,725.4 1921.5,731.2 1921.6,732.9" stroke-width="2.6"/>
<path d="M1922.9,711.8 C1923.7,712.8 1926.8,715.7 1927.9,718.0 C1928.9,720.3 1928.9,724.2 1929.1,725.5" stroke-width="2.6"/>
<path d="M1880.5,737.9 L1875.6,749.7 L1860.0,762.8" stroke-width="2.6"/>
<path d="M1878.1,751.6 L1890.5,752.9" stroke-width="2.6"/>
<path d="M1000.0,1156.0 L1391.7,1375.6" stroke-width="2.5"/>
<path d="M1000.0,1068.7 L1204.6,1178.5" stroke-width="2.5"/>
<path d="M1248.3,1204.7 L1405.4,1294.5" stroke-width="2.5"/>
<path d="M1212.1,1189.7 C1213.5,1189.2 1217.1,1185.9 1220.8,1186.7 C1224.6,1187.5 1230.8,1190.0 1234.5,1194.7 C1238.3,1199.3 1241.6,1205.9 1243.3,1214.7 C1244.9,1223.4 1245.8,1240.4 1244.5,1247.1 C1243.3,1253.7 1239.1,1254.2 1235.8,1254.6 C1232.5,1255.0 1228.3,1253.3 1224.6,1249.6 C1220.8,1245.8 1215.6,1238.8 1213.3,1232.1 C1211.0,1225.5 1211.0,1216.7 1210.8,1209.7 C1210.6,1202.6 1211.9,1193.0 1212.1,1189.7" stroke-width="2.5"/>
<path d="M1219.6,1188.5 C1219.4,1192.8 1217.5,1207.0 1218.3,1214.7 C1219.1,1222.3 1221.8,1229.2 1224.6,1234.6 C1227.3,1240.0 1231.4,1244.9 1234.5,1247.1 C1237.6,1249.2 1241.8,1247.5 1243.3,1247.6" stroke-width="2.5"/>
<path d="M532.3,855.9 L759.9,1010.2" stroke-width="2.5"/>
<path d="M759.9,1010.2 C762.1,1011.3 768.6,1014.3 773.0,1016.7 C777.3,1019.1 783.9,1023.3 786.0,1024.6" stroke-width="2.5"/>
<path d="M786.0,1024.6 L1000.0,1156.7" stroke-width="2.5"/>
<path d="M528.4,845.4 L1000.0,1069.0" stroke-width="2.5"/>
<path d="M837.0,1061.2 L835.7,1143.6" stroke-width="2.5"/>
<path d="M48.2,374.0 L47.5,367.2 L49.0,366.2 L58.0,369.5 L64.0,365.0 L102.1,386.7 L104.4,388.9 L104.4,398.7 L133.6,415.9" stroke-width="2.5"/>
<path d="M48.2,374.0 L54.2,376.2 L126.8,420.4 L131.9,430.4" stroke-width="2.5"/>
<path d="M60.2,371.7 L99.1,395.7 L133.0,417.1 L138.1,426.9 L143.9,429.9 L228.6,491.8 L235.5,491.8 L237.6,487.9 L249.6,477.8" stroke-width="2.5"/>
<path d="M123.8,397.9 L123.8,371.0 L170.2,400.1 L197.2,400.1 L227.1,417.4 L248.1,406.9 L258.6,444.3 L234.6,459.3 L279.5,483.2" stroke-width="2.5"/>
<path d="M123.8,397.9 L133.6,406.1" stroke-width="2.5"/>
<path d="M133.6,406.1 L143.3,410.6 L144.0,429.3 L138.8,427.1 L133.6,417.4 Z" stroke-width="2.5"/>
<path d="M152.3,416.6 L171.7,428.6 L171.7,440.6 L152.3,429.3 Z" stroke-width="2.5"/>
<path d="M198.7,413.6 L218.9,425.6 L218.9,438.3 L198.7,426.3 Z" stroke-width="2.5"/>
<path d="M203.2,457.8 C206.3,458.0 219.3,465.3 222.6,468.3 C226.0,471.3 224.1,474.3 223.4,475.7 C222.6,477.2 221.4,478.7 218.1,477.2 C214.9,475.7 206.4,470.0 203.9,466.8 C201.4,463.5 200.1,457.5 203.2,457.8 Z" stroke-width="2.5"/>
<path d="M229.4,423.4 L229.4,485.5" stroke-width="2.5"/>
<path d="M240.8,485.3 L295.7,521.5" stroke-width="2.5"/>
<path d="M297.8,522.1 L297.8,492.5 L301.1,488.6 L306.6,490.3 L323.1,500.1 L328.6,505.6 L335.2,502.3 L340.0,501.8" stroke-width="2.5"/>
<path d="M297.8,522.1 C297.9,523.0 297.8,526.1 298.4,527.6 C298.9,529.0 299.8,529.9 301.1,530.9 C302.5,531.9 305.7,533.2 306.6,533.6" stroke-width="2.5"/>
<path d="M306.6,533.6 L340.0,551.7" stroke-width="2.5"/>
<path d="M313.2,513.3 L334.1,525.4 L334.1,536.4 L313.2,524.3 Z" stroke-width="2.5"/>
<path d="M280.8,449.6 L280.8,511.1" stroke-width="2.5"/>
<path d="M255.0,471.6 L255.0,493.6" stroke-width="2.5"/>
<path d="M300.0,460.6 L301.1,488.1" stroke-width="2.5"/>
<path d="M306.6,458.4 L307.7,491.4" stroke-width="2.5"/>
<path d="M316.5,454.0 L319.3,499.0" stroke-width="2.5"/>
<path d="M324.2,432.1 L324.2,500.1" stroke-width="2.5"/>
<path d="M330.8,451.8 L335.2,467.2 L336.3,503.4" stroke-width="2.5"/>
<path d="M234.2,459.0 L257.8,445.8 L258.3,443.1 L252.8,420.0" stroke-width="2.5"/>
<path d="M234.2,459.0 L279.2,483.7" stroke-width="2.5"/>
<path d="M257.2,495.7 L278.1,483.7" stroke-width="2.5"/>
<path d="M262.7,437.6 L281.4,448.5 L301.1,458.4 L323.1,447.4 L340.0,435.4" stroke-width="2.5"/>
<path d="M323.1,447.4 L340.0,451.8" stroke-width="2.5"/>
<path d="M258.3,446.3 L262.7,439.8 L262.7,428.8 L269.3,422.2 L281.4,425.5 L289.1,430.4 L323.1,446.3" stroke-width="2.5"/>
<path d="M288.0,426.0 L300.0,420.0" stroke-width="2.5"/>
<path d="M282.5,420.0 L282.5,426.6" stroke-width="2.5"/>
<path d="M1564.4,845.0 L1564.4,1165.0" style="stroke:#fff;stroke-width:14.0px;stroke-linecap:butt"/>
<path d="M1564.2,837.3 L1564.2,1167.0 L1467.0,1232.0" stroke-width="2.5" stroke-dasharray="73 5 10 5" stroke-dashoffset="42.0" stroke-linecap="butt"/>
<path d="M1475.8,1430.8 L1608.5,1349.5 L1450.0,1257.0" stroke-width="2.5" stroke-dasharray="72 5 9 5" stroke-dashoffset="0.0" stroke-linecap="butt"/>
<path d="M48.2,374.0 C50.3,379.5 55.9,395.4 61.0,406.9 C66.1,418.4 72.9,432.6 78.9,442.8 C84.9,453.0 92.7,462.3 96.9,468.3 C101.1,474.3 97.5,470.7 104.0,479.0 C110.5,487.3 126.6,507.8 135.9,517.9 C145.2,528.0 149.9,530.9 159.9,539.9 C169.9,548.9 182.5,559.8 195.8,571.8 C209.1,583.8 225.7,599.7 239.7,611.7 C253.7,623.7 266.3,634.1 279.6,643.7 C292.9,653.4 306.3,661.3 319.6,669.6 C332.9,677.9 343.9,684.6 359.5,693.6 C375.1,702.6 400.1,714.5 413.4,723.5 C426.7,732.5 431.6,740.2 439.3,747.5 C447.0,754.8 451.3,758.6 459.3,767.4 C467.3,776.1 477.6,788.1 487.2,800.0 C496.8,811.9 509.5,829.7 517.0,839.0 C524.5,848.3 523.5,848.8 532.3,855.9 C541.1,863.0 563.7,877.2 570.0,881.5" stroke-width="2.5"/>
<path d="M131.9,430.4 C142.2,438.3 168.9,460.1 193.8,478.0 C218.8,495.9 252.2,518.2 281.6,538.0 C311.0,557.8 338.9,577.0 370.3,597.0 C401.7,617.0 435.1,638.3 470.0,657.8 C504.9,677.2 551.7,698.6 580.0,713.7 C608.3,728.8 630.0,742.5 640.0,748.3" stroke-width="2.5"/>
<path d="M234.7,495.8 C245.6,503.2 272.6,522.3 300.0,540.0 C327.4,557.7 371.1,584.2 399.4,602.0 C427.7,619.8 439.9,629.7 470.0,646.8 C500.1,663.9 551.7,689.6 580.0,704.5 C608.3,719.4 630.0,730.7 640.0,735.9" stroke-width="2.5"/>
<path d="M887.7,707.7 L1124.6,859.5" stroke-width="2.5"/>
<path d="M879.7,711.6 L1124.6,868.2" stroke-width="2.5"/>
<path d="M871.8,715.6 L1124.6,877.0" stroke-width="2.5"/>
<path d="M863.8,719.6 L1124.6,890.7" stroke-width="2.5"/>
<path d="M739.7,219.7 L748.5,262.1" stroke-width="2.5"/>
<path d="M507.5,361.8 L544.4,347.8" stroke-width="2.5"/>
</svg></body></html>
